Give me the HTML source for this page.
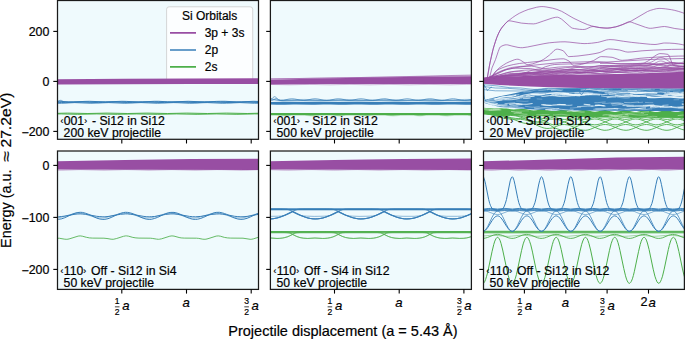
<!DOCTYPE html>
<html><head><meta charset="utf-8"><title>Si orbital energies</title>
<style>html,body{margin:0;padding:0;background:#fff;}body{width:685px;height:339px;overflow:hidden;font-family:"Liberation Sans",sans-serif;}svg{display:block;}</style>
</head><body>
<svg width="685" height="339" viewBox="0 0 685 339">
<defs><clipPath id="c0"><rect x="57.5" y="0.5" width="201" height="138.8"/></clipPath><clipPath id="c1"><rect x="270.4" y="0.5" width="201" height="138.8"/></clipPath><clipPath id="c2"><rect x="483.5" y="0.5" width="200.9" height="138.8"/></clipPath><clipPath id="c3"><rect x="57.5" y="151" width="201" height="138.4"/></clipPath><clipPath id="c4"><rect x="270.4" y="151" width="201" height="138.4"/></clipPath><clipPath id="c5"><rect x="483.5" y="151" width="200.9" height="138.4"/></clipPath></defs>
<rect width="685" height="339" fill="#fff"/>
<rect x="57.5" y="0.5" width="201" height="138.8" fill="#effafd"/>
<g clip-path="url(#c0)" fill="none" stroke-linejoin="round">
<rect x="166.6" y="6.8" width="86.1" height="76" rx="2.5" fill="#ffffff" fill-opacity="0.8" stroke="#cccccc" stroke-opacity="0.8" stroke-width="1"/>
<polyline points="170,32.8 196,32.8" stroke="#984ea3" stroke-width="1.7"/>
<polyline points="170,50 196,50" stroke="#377eb8" stroke-width="1.7"/>
<polyline points="170,66.8 196,66.8" stroke="#4daf4a" stroke-width="1.7"/>
<polygon points="55.5,79.2 125,78.8 260.5,78.3 260.5,84 191,84 55.5,84.5" fill="#984ea3" stroke="none"/>
<polyline points="55.5,101.3 59.9,101.3 68.8,101.9 73.2,101.9 85,101.4 89.4,101.3 105.6,101.9 121.9,101.3 126.3,101.4 138.1,101.9 142.5,101.9 154.3,101.3 158.7,101.3 167.6,101.8 172,101.9 188.2,101.3 204.5,101.9 208.9,101.8 216.3,101.4 220.7,101.3 225.1,101.3 236.9,101.9 241.3,101.9 253.1,101.3 260.5,101.5" stroke="#377eb8" stroke-width="1"/>
<polyline points="55.5,102.2 61.4,102.5 65.8,102.6 82,102 98.3,102.6 102.7,102.5 111.5,102.1 116,102 127.8,102.5 132.2,102.6 144,102.1 148.4,102 164.6,102.6 180.9,102 197.1,102.6 213.3,102 231,102.6 247.2,102 260.5,102.6" stroke="#377eb8" stroke-width="1"/>
<polyline points="55.5,103.2 61.4,103.2 74.7,102.6 90.9,103.2 108.6,102.6 124.8,103.2 141,102.6 157.3,103.2 173.5,102.6 177.9,102.7 189.7,103.2 194.1,103.1 203,102.7 207.4,102.6 222.2,103.2 226.6,103.1 239.9,102.6 254.6,103.2 260.5,103.1" stroke="#377eb8" stroke-width="1"/>
<polyline points="55.5,101.8 57,101.7 58.4,101.1 59.9,100.3 61.4,100.4 62.9,101.3 64.3,101.7 65.8,101.8 260.5,101.8" stroke="#377eb8" stroke-width="0.8" stroke-opacity="0.8"/>
<polyline points="55.5,113.4 67.3,113.1 87.9,113.5 107.1,113.1 127.8,113.5 146.9,113.1 167.6,113.5 186.8,113.1 207.4,113.5 226.6,113.1 247.2,113.5 260.5,113.2" stroke="#4daf4a" stroke-width="1"/>
<polyline points="55.5,113.9 61.4,113.9 77.6,114.3 96.8,113.9 117.4,114.3 136.6,113.9 157.3,114.3 176.4,113.9 197.1,114.3 216.3,113.9 236.9,114.3 254.6,113.9 260.5,113.9" stroke="#4daf4a" stroke-width="1"/>
</g>
<rect x="270.4" y="0.5" width="201" height="138.8" fill="#effafd"/>
<g clip-path="url(#c1)" fill="none" stroke-linejoin="round">
<polygon points="268.4,79.7 320.5,78.6 372.6,77.6 421.3,76.8 473.4,76.2 473.4,84.1 421.3,84 369.2,84 320.5,84.1 268.4,84.4" fill="#984ea3" stroke="none"/>
<polyline points="268.4,79 380.2,77.2 473.4,75" stroke="#984ea3" stroke-width="0.8" stroke-opacity="0.75"/>
<polyline points="268.4,79 473.4,75.7" stroke="#984ea3" stroke-width="0.8" stroke-opacity="0.6"/>
<polyline points="268.4,84.4 289.7,84.8 309.5,84.4 330.1,84.8 349.3,84.4 369.9,84.8 389.1,84.4 409.6,84.8 428.8,84.4 450.1,84.8 466.5,84.4 473.4,84.4" stroke="#984ea3" stroke-width="0.8" stroke-opacity="0.5"/>
<polygon points="268.4,102.1 283.5,101.7 302,102.1 320.5,101.7 339,102.1 357.5,101.7 376,102.1 380.8,102 393.9,101.7 398.7,101.7 408.3,102 413.1,102.1 417.9,102 430.9,101.7 435.7,101.7 445.3,102 450.1,102.1 454.9,102 465.9,101.7 473.4,101.8 473.4,104.7 469.3,104.8 465.2,104.8 454.9,104.4 450.8,104.4 447.3,104.4 439.1,104.8 435,104.8 431.6,104.8 424,104.4 419.9,104.4 416.5,104.4 408.3,104.8 404.2,104.8 400.7,104.8 392.5,104.4 389.1,104.4 385,104.4 377.4,104.8 373.3,104.8 369.9,104.8 361.6,104.4 358.2,104.4 354.1,104.4 345.9,104.8 342.4,104.8 338.3,104.8 330.8,104.4 327.4,104.4 323.2,104.4 315,104.8 311.6,104.8 296.5,104.4 293.1,104.4 284.9,104.8 280.7,104.8 276.6,104.8 268.4,104.4" fill="#377eb8" stroke="none"/>
<polyline points="268.4,98.8 271.1,98.9 278,100.2 280.7,100.4 283.5,100.2 289,99.1 291.7,98.8 294.5,99 300.6,100.1 303.4,100.4 306.1,100.2 312.3,99 315,98.8 317.8,99 323.9,100.2 326.7,100.4 329.4,100.2 335.6,99 338.3,98.8 341.1,99 346.6,100.1 349.3,100.4 352,100.2 358.2,99 361,98.8 363.7,99 369.9,100.2 372.6,100.4 375.4,100.2 380.8,99.1 383.6,98.8 386.3,98.9 392.5,100.1 395.9,100.4 398.7,100.1 404.2,99.1 406.9,98.8 409.6,99 415.8,100.2 418.6,100.4 421.3,100.2 426.8,99.1 429.5,98.8 432.3,98.9 439.1,100.2 441.9,100.4 444.6,100.2 449.4,99.2 452.1,98.8 453.5,98.8 455.6,99 461.7,100.2 464.5,100.4 467.2,100.2 473.4,99" stroke="#377eb8" stroke-width="0.8" stroke-opacity="0.9"/>
<polyline points="268.4,99.6 278,100.3 283.5,100.4 288.3,100.2 299.3,99.5 304.7,99.4 309.5,99.6 319.1,100.3 323.9,100.4 328.7,100.3 339,99.6 343.8,99.4 348.6,99.5 359.6,100.2 365.1,100.4 369.9,100.3 380.2,99.6 385,99.4 389.8,99.5 400.7,100.3 405.5,100.4 410.3,100.3 420.6,99.6 425.4,99.4 430.9,99.5 441.9,100.3 446.7,100.4 452.1,100.2 464.5,99.4 468.6,99.4 473.4,99.6" stroke="#377eb8" stroke-width="0.8" stroke-opacity="0.45"/>
<polyline points="268.4,100.2 269.8,100 270.5,99.8 271.8,98.8 273.2,97.4 273.9,96.9 274.6,96.7 275.3,96.9 275.9,97.4 277.3,98.7 278.7,99.7 280.1,100.2 282.1,100.3 473.4,100.3" stroke="#377eb8" stroke-width="0.8" stroke-opacity="0.8"/>
<polyline points="268.4,100.8 270.5,100.8 271.8,100.5 273.2,99.9 275.3,98.6 275.9,98.4 276.6,98.5 278.7,99.8 280.1,100.5 281.4,100.7 282.8,100.8 473.4,100.8" stroke="#377eb8" stroke-width="0.8" stroke-opacity="0.7"/>
<polygon points="268.4,112.9 473.4,112.9 473.4,115.6 467.2,115.1 462.4,115 454.2,115.1 447.3,115.6 445.3,115.5 441.2,115.2 439.1,115.1 429.5,115 426.1,115.1 422,115.5 419.9,115.6 417.9,115.5 413.8,115.1 409.6,115 400.7,115.1 393.2,115.6 391.1,115.5 387.7,115.2 385,115 375.4,115 372.6,115.1 367.8,115.5 365.8,115.6 358.2,115.1 350,115 345.9,115.1 341.1,115.5 339,115.6 337,115.5 332.8,115.1 329.4,115 319.8,115.1 312.3,115.6 310.2,115.5 304.7,115.1 296.5,115 291.7,115.1 286.9,115.5 284.9,115.6 277.3,115.1 268.4,115" fill="#4daf4a" stroke="none"/>
<polyline points="268.4,115.3 277.3,115.4 284.9,115.9 291.7,115.4 296.5,115.3 304.7,115.4 312.3,115.9 319.8,115.4 329.4,115.3 332.8,115.4 339,115.9 345.9,115.4 350,115.3 358.2,115.4 365.8,115.9 375.4,115.3 385,115.3 393.2,115.9 400.7,115.4 409.6,115.3 413.8,115.4 419.9,115.9 426.1,115.4 429.5,115.3 439.1,115.4 447.3,115.9 454.2,115.4 462.4,115.3 467.2,115.4 473.4,115.9" stroke="#4daf4a" stroke-width="0.6" stroke-opacity="0.5"/>
</g>
<rect x="483.5" y="0.5" width="200.9" height="138.8" fill="#effafd"/>
<g clip-path="url(#c2)" fill="none" stroke-linejoin="round">
<polyline points="482.5,113 485.6,113.4 490.2,114.4 501.9,117.7 506.5,118.7 511.1,119.1 520.3,119.3 522.9,119.6 524.9,119.9 527.5,120.7 530,121.7 538.2,125.9 541.3,127.2 544.3,128.1 546.9,128.5 549.4,128.4 552.5,127.9 553,127.8 557.1,126 559.7,125.2 562.2,124.6 564.8,124.5 567.3,124.8 569.9,125.5 577.6,128.7 580.1,129.6 583.2,130.2 585.7,130.3 587.8,130 590.3,129.3 598,126.1 600.5,125.2 603.1,124.6 605.7,124.5 608.2,124.8 610.8,125.5 618.4,128.7 621,129.6 623.5,130.1 626.1,130.3 628.7,130 631.2,129.3 633.8,128.4 638.9,126.1 641.9,125.1 644.5,124.6 646.5,124.5 649.1,124.8 651.7,125.5 654.2,126.4 659.3,128.6 662.4,129.7 664.9,130.2 667,130.3 669,130.1 671.6,129.5 674.1,128.6 679.2,126.4 681.8,125.4 684.4,124.8 686.4,124.5" stroke="#4daf4a" stroke-width="0.9"/>
<polyline points="482.5,113 483,113 487.6,114.1 491.2,114.7 501.4,116 506,116.9 511.1,118.5 520.8,122.2 523.4,123 525.4,123.4 528,123.6 530.5,123.6 537.7,122.9 540.2,122.7 542.3,122.8 544.3,123.1 546.4,123.6 548.4,124.4 550.5,125.5 553,127 557.1,128.8 560.2,129.8 562.7,130.2 565.3,130.3 568.4,129.7 571.4,128.7 577,126.3 579.6,125.3 582.2,124.7 584.7,124.5 587.3,124.7 589.8,125.3 592.4,126.3 598,128.7 601.1,129.7 604.1,130.3 606.7,130.2 608.7,129.9 611.3,129.1 618.4,126.1 621,125.2 623.5,124.7 625.6,124.5 628.1,124.7 630.7,125.3 633.3,126.2 639.4,128.9 641.9,129.7 644.5,130.2 647.1,130.3 649.1,130 651.7,129.3 654.2,128.4 659.3,126.2 661.9,125.3 664.4,124.7 666.5,124.5 669,124.7 671.6,125.3 674.1,126.2 679.2,128.4 681.8,129.4 684.4,130 686.4,130.3" stroke="#4daf4a" stroke-width="0.9"/>
<polyline points="482.5,113 485.6,113.4 494.3,114.9 497.8,115.3 501.9,115.5 510.6,115.4 515.2,115.8 517.8,116.4 520.3,117.1 530.5,120.8 533.1,121.4 535.1,121.7 537.7,121.8 540.2,121.5 547.9,119.6 550.5,119.2 554,119 556.1,119.2 558.1,119.6 560.2,120.2 566.8,123 569.4,124 571.9,124.6 574,124.8 576.5,124.7 579.1,124.1 581.6,123.2 589.3,120 591.9,119.3 594.4,119 597,119.1 599.5,119.7 602.1,120.6 609.7,123.8 612.3,124.5 614.9,124.8 617.4,124.7 620,124.1 622.5,123.3 630.2,120.1 632.7,119.3 635.3,119 637.9,119.1 640.4,119.7 643,120.5 650.6,123.7 653.2,124.4 655.7,124.8 658.3,124.7 661.4,124 663.9,123.1 671.1,120.1 673.1,119.5 675.2,119.1 677.7,119 680.3,119.4 682.8,120.1 686.4,121.5" stroke="#4daf4a" stroke-width="0.9"/>
<polyline points="482.5,113 493.2,113.9 497.3,114.4 501.9,115.3 511.1,117.7 515.7,118.4 518.3,118.5 520.8,118.4 528,117.5 530.5,117.3 533.1,117.3 535.1,117.5 537.2,118 539.7,118.9 542.3,120 549.4,123.6 552,124.5 553.5,124.8 556.1,124.6 558.6,124.1 561.2,123.2 568.9,120 571.4,119.3 574,119 576.5,119.1 579.1,119.7 581.6,120.6 589.3,123.8 591.9,124.5 594.4,124.8 597,124.7 599.5,124.1 602.1,123.2 609.7,120 612.3,119.3 614.9,119 617.4,119.1 620,119.7 622.5,120.5 630.2,123.7 632.7,124.5 635.3,124.8 637.9,124.7 640.4,124.1 643,123.3 650.6,120.1 653.2,119.4 655.7,119 658.3,119.1 661.4,119.8 663.9,120.7 671.1,123.7 673.1,124.3 675.2,124.7 677.7,124.8 680.3,124.4 682.8,123.7 686.4,122.3" stroke="#4daf4a" stroke-width="0.9"/>
<polyline points="482.5,113 487.1,113.1 490.7,113.3 501.4,114.7 506,115 511.1,114.8 520.3,113.8 522.9,113.7 524.9,113.8 527.5,114.1 530,114.7 538.2,117.4 540.8,118.1 543.3,118.5 545.4,118.6 547.9,118.4 550.5,117.9 553,117.2 557.6,115.4 560.2,114.7 562.7,114.3 565.3,114.2 567.3,114.5 569.9,115.1 577.6,118 580.1,118.8 582.7,119.3 584.7,119.4 586.7,119.3 589.3,118.8 591.9,118 597.5,115.8 600,115 602.6,114.4 605.1,114.2 607.2,114.3 609.7,114.8 612.3,115.6 620,118.5 622.5,119.1 624.6,119.4 627.1,119.3 629.7,118.9 632.7,118 638.4,115.9 640.9,115 643.5,114.4 646,114.2 648.6,114.4 651.1,114.9 653.7,115.7 659.8,118.1 662.4,118.9 664.9,119.3 667.5,119.4 669.5,119.2 671.6,118.7 674.1,117.9 681.8,115 684.4,114.4 686.4,114.2" stroke="#4daf4a" stroke-width="0.9"/>
<polyline points="482.5,113 490.7,113.5 501.4,113.3 506,113.5 511.1,114.2 520.8,116.4 523.4,116.7 525.4,116.8 528,116.7 530.5,116.3 540.2,114.3 542.8,114 544.8,114.1 546.9,114.4 549.4,115 556.1,117.6 559.2,118.7 561.7,119.2 564.3,119.4 566.3,119.3 568.9,118.8 571.4,118 579.1,115.1 581.6,114.5 583.7,114.2 586.2,114.3 588.8,114.7 591.9,115.6 597.5,117.8 600,118.6 602.6,119.2 605.1,119.4 607.7,119.2 610.3,118.7 612.8,117.8 618.9,115.5 621.5,114.7 624.6,114.2 627.1,114.3 629.2,114.6 631.7,115.2 638.9,117.9 641.4,118.7 644,119.3 646,119.4 648.6,119.2 651.1,118.7 653.7,117.9 659.8,115.5 662.4,114.7 664.9,114.3 667,114.2 669,114.4 671.6,114.9 674.1,115.7 681.8,118.6 684.4,119.2 686.4,119.4" stroke="#4daf4a" stroke-width="0.9"/>
<polygon points="482.5,107.8 486.6,107.9 494.3,108.4 501.4,108.3 504,108.4 506.5,108.6 511.1,109.2 513.7,109.4 516.2,109.3 521.3,108.9 523.9,108.9 526.4,109.2 531.6,110.2 533.6,110.4 536.2,110.3 542.3,109.3 544.3,109.3 545.4,109.4 546.9,109.7 551.5,110.9 553.5,111.1 554.6,111.1 556.1,111 561.2,109.8 563.2,109.5 564.8,109.5 566.3,109.8 571.4,111.1 573,111.4 574,111.5 575,111.5 576.5,111.3 582.2,110 583.7,109.8 584.7,109.8 585.7,109.9 587.3,110.2 592.4,111.6 594.4,111.8 595.4,111.8 597,111.6 602.1,110.4 603.6,110.2 604.6,110.1 605.7,110.1 607.2,110.4 612.8,111.7 614.3,111.9 615.9,111.9 617.9,111.6 622.5,110.4 624.1,110.2 625.1,110.2 626.1,110.2 627.6,110.4 633.3,111.8 634.8,112 635.8,112 636.8,111.9 638.4,111.6 641.9,110.7 643.5,110.4 645.5,110.2 646.5,110.2 648.1,110.5 653.7,111.8 655.2,112 656.2,112 657.3,111.9 658.8,111.7 663.4,110.5 664.9,110.3 666,110.3 668,110.4 669.5,110.7 673.6,111.8 675.2,112 676.2,112.1 678.2,111.9 679.8,111.6 683.8,110.6 685.4,110.3 686.4,110.3 686.4,117.9 600,117.4 540.2,116.3 482.5,114.4" fill="#4daf4a" stroke="none"/>
<polyline points="602.6,115.2 605.1,114.8 607.2,114.8 609.2,114.9 613.3,115.5 615.4,115.6 622.5,114.9" stroke="#d9f0d6" stroke-width="0.89" stroke-opacity="0.63"/>
<polyline points="677.7,115.6 682.3,115.1 685.4,115" stroke="#d9f0d6" stroke-width="0.9" stroke-opacity="0.56"/>
<polyline points="622,112.8 625.6,113.3 628.1,113.5 630.2,113.3 635.3,112.7 637.3,112.7 639.4,112.8 644,113.4" stroke="#d9f0d6" stroke-width="0.64" stroke-opacity="0.63"/>
<polyline points="566.8,111.6 570.4,111.2 573,111.1 575,111.2 581.1,112 584.7,112" stroke="#d9f0d6" stroke-width="0.8" stroke-opacity="0.68"/>
<polyline points="513.7,113.4 516.2,113.2 518.3,113.3 524.4,114.2 527.5,114.3" stroke="#d9f0d6" stroke-width="0.7" stroke-opacity="0.67"/>
<polyline points="516.2,111.2 519.3,111.2 525.9,110.9 529,110.9" stroke="#d9f0d6" stroke-width="0.51" stroke-opacity="0.56"/>
<polyline points="625.1,114.6 628.1,114.3 630.7,114.3 638.4,115 640.9,115.1 643.5,115 648.1,114.5" stroke="#d9f0d6" stroke-width="0.61" stroke-opacity="0.69"/>
<polyline points="610.8,116.2 616.4,116.7" stroke="#d9f0d6" stroke-width="0.74" stroke-opacity="0.6"/>
<polyline points="482.5,108.5 485.1,108.6 490.2,109.4 492.2,109.6 494.3,109.5 499.4,109.1" stroke="#d9f0d6" stroke-width="0.85" stroke-opacity="0.67"/>
<polyline points="482.5,109.4 487.6,110.1 490.2,110.3 492.7,110.2 497.8,109.8 500.4,109.8" stroke="#d9f0d6" stroke-width="0.8" stroke-opacity="0.67"/>
<polyline points="511.1,111.4 517.2,112.3 519.3,112.4 521.8,112.3" stroke="#d9f0d6" stroke-width="0.86" stroke-opacity="0.74"/>
<polyline points="640.9,112.5 646.5,111.9 649.1,111.8" stroke="#d9f0d6" stroke-width="0.63" stroke-opacity="0.75"/>
<polyline points="609.7,114.8 613.3,115.1 616.9,115.1 628.1,114.4" stroke="#d9f0d6" stroke-width="0.51" stroke-opacity="0.8"/>
<polyline points="536.2,114.9 544.8,114.5 549.4,114.6" stroke="#d9f0d6" stroke-width="0.79" stroke-opacity="0.5"/>
<polyline points="646.5,117 652.7,116.3 654.7,116.4 657.3,116.6" stroke="#d9f0d6" stroke-width="0.55" stroke-opacity="0.72"/>
<polyline points="489.1,110.2 492.2,110.2 498.3,109.9 501.4,109.9" stroke="#d9f0d6" stroke-width="0.77" stroke-opacity="0.6"/>
<polyline points="553,114.9 555.1,115 559.7,114.4 561.7,114.3 563.8,114.5 567.3,115.1 569.9,115.2" stroke="#d9f0d6" stroke-width="0.74" stroke-opacity="0.52"/>
<polyline points="608.7,116 610.8,115.9 612.8,115.9 618.4,116.6 620.5,116.7 622.5,116.6 628.7,116" stroke="#d9f0d6" stroke-width="0.85" stroke-opacity="0.78"/>
<polygon points="482.5,100.5 483,100.5 490.2,98.6 499.9,96.2 510.1,94.2 520.3,91.9 535.1,89.6 550,88.2 686.4,88.6 686.4,111.2 550,110.2 530,109.3 499.9,107 490.2,104.8 483,102.5 482.5,102.5" fill="#377eb8" stroke="none"/>
<polyline points="487.1,100.3 490.7,100 496.3,100 498.9,99.9 501.4,99.5 507.5,98.2 510.6,97.7 513.2,97.5 519.3,97.3 523.4,96.9" stroke="#effafd" stroke-width="0.63" stroke-opacity="0.57"/>
<polyline points="682.3,91.8 686.4,91.6" stroke="#effafd" stroke-width="1.16" stroke-opacity="0.63"/>
<polyline points="494.8,99 499.9,97.5 502.4,96.9 505,96.6 511.1,96.3 513.7,95.8 516.2,95.1" stroke="#effafd" stroke-width="1.27" stroke-opacity="0.91"/>
<polyline points="608.7,94.5 614.9,94 617.9,93.9 621,94 628.7,94.7 632.7,94.6" stroke="#effafd" stroke-width="1.06" stroke-opacity="0.61"/>
<polyline points="620.5,96.3 625.6,96.8 629.2,96.9 638.4,96.3 641.4,96.2 644.5,96.4 650.1,96.9" stroke="#effafd" stroke-width="0.63" stroke-opacity="0.73"/>
<polyline points="629.7,94.6 636.3,95.3 638.9,95.4 641.9,95.3 650.6,94.7 653.7,94.7 657.3,95.1" stroke="#effafd" stroke-width="0.79" stroke-opacity="0.71"/>
<polyline points="482.5,101 485.6,100.8 490.7,101.3 492.7,101.3 494.8,101.1 499.4,100.2 502.4,100" stroke="#effafd" stroke-width="1.23" stroke-opacity="0.64"/>
<polyline points="525.9,96.1 529,95.4 531,95 533.6,94.9 537.2,95.2 539.2,95.2 541.3,94.9 544.8,94.2" stroke="#effafd" stroke-width="1.2" stroke-opacity="0.73"/>
<polyline points="564.3,93.9 572.4,94.6 576,94.8 579.6,94.7 587.8,94.1 591.9,94.1" stroke="#effafd" stroke-width="1.32" stroke-opacity="0.89"/>
<polyline points="561.7,94.8 564.8,94.6 567.8,94.6 575.5,95.2 578.6,95.4 581.6,95.3 585.2,95" stroke="#effafd" stroke-width="1.1" stroke-opacity="0.71"/>
<polyline points="522.4,95.3 535.1,93.1 539.2,92.9 547.9,93 553,92.8 561.2,92.2" stroke="#effafd" stroke-width="0.81" stroke-opacity="0.64"/>
<polyline points="615.4,91.4 623.5,92.2 626.1,92.2 631.2,91.6 633.8,91.5 636.3,91.6 642.5,92.3 646,92.2" stroke="#effafd" stroke-width="1.29" stroke-opacity="0.81"/>
<polyline points="606.7,97.5 612.3,96.9 616.4,96.9" stroke="#effafd" stroke-width="1.32" stroke-opacity="0.64"/>
<polyline points="520.3,95.9 527,94.6 530.5,94.1 534.6,93.9 538.7,94" stroke="#effafd" stroke-width="0.65" stroke-opacity="0.92"/>
<polyline points="669.5,93 675.7,93.8 677.2,93.8 679.2,93.7" stroke="#effafd" stroke-width="0.71" stroke-opacity="0.56"/>
<polyline points="598.5,91.5 603.6,90.8 605.7,90.7 607.7,90.8 611.8,91.4 613.8,91.5 615.9,91.4 621.5,90.8 623.5,90.8 628.1,91.5 630.2,91.6 632.2,91.5 635.8,91" stroke="#effafd" stroke-width="0.91" stroke-opacity="0.62"/>
<polyline points="634.8,89.8 637.9,89.7 646,89.1 651.1,89.2" stroke="#effafd" stroke-width="1.3" stroke-opacity="0.6"/>
<polyline points="621.5,89.4 623.5,89.2 625.6,89.2 631.2,89.9 633.3,90 635.3,89.9 641.4,89.3 644,89.4 648.1,89.9 650.1,90.1 652.2,90 654.7,89.7" stroke="#effafd" stroke-width="0.95" stroke-opacity="0.82"/>
<polyline points="601.6,91.4 607.7,91.5 616.4,90.9 620,90.8 623.5,90.9 629.2,91.3" stroke="#effafd" stroke-width="0.81" stroke-opacity="0.91"/>
<polyline points="541.8,96.6 546.4,95.9 550,95.7 553,95.8 558.6,96.4 561.7,96.5 564.8,96.4 571.4,95.9 575,95.8" stroke="#effafd" stroke-width="0.88" stroke-opacity="0.56"/>
<polyline points="666,93.9 671.1,94.4 674.1,94.5 677.2,94.3 683.3,93.8 686.4,93.7" stroke="#effafd" stroke-width="0.6" stroke-opacity="0.64"/>
<polyline points="680.8,93.3 683.8,93 686.4,93.1" stroke="#effafd" stroke-width="0.99" stroke-opacity="0.77"/>
<polyline points="604.6,92.8 607.7,92.8 613.3,92.2 615.9,92.1 618.4,92.2 623.5,92.8 626.1,92.9 628.7,92.9 636.3,92.2 639.4,92.3 643,92.7" stroke="#effafd" stroke-width="0.93" stroke-opacity="0.76"/>
<polyline points="560.2,94.7 564.8,94.8 573.5,95.4 577,95.6 581.1,95.5 588.8,94.9" stroke="#effafd" stroke-width="0.67" stroke-opacity="0.85"/>
<polyline points="588.8,89.1 601.6,89.9 605.1,89.9 608.7,89.7" stroke="#effafd" stroke-width="1.34" stroke-opacity="0.6"/>
<polyline points="574.5,93.2 580.1,92.7 583.7,92.6 587.3,92.7 593.4,93.3" stroke="#effafd" stroke-width="1.3" stroke-opacity="0.56"/>
<polyline points="504.5,99.5 507.5,99.3 515.2,99.1 519.8,98.6" stroke="#effafd" stroke-width="0.75" stroke-opacity="0.84"/>
<polyline points="630.2,92.8 634.8,93.3 637.9,93.4 640.9,93.2 647.1,92.7 650.1,92.6 653.2,92.7 657.3,93.1" stroke="#effafd" stroke-width="1.38" stroke-opacity="0.91"/>
<polyline points="627.6,90.7 632.7,90.2 634.8,90.2 636.8,90.4" stroke="#effafd" stroke-width="1.27" stroke-opacity="0.9"/>
<polyline points="664.4,93.5 666.5,93.8 668,93.8 673.1,93.2 675.2,93.1 676.7,93.2 681.3,93.9 683.8,93.8" stroke="#effafd" stroke-width="0.98" stroke-opacity="0.66"/>
<polyline points="588.3,94.7 593.9,94.5 600,94.8" stroke="#effafd" stroke-width="1.16" stroke-opacity="0.79"/>
<polyline points="628.1,91.6 632.2,91.7 640.4,91" stroke="#effafd" stroke-width="1.13" stroke-opacity="0.66"/>
<polyline points="550,95.6 552.5,95.4 554.6,95.4 561.2,96.2 563.8,96.2 566.3,96.1 571.4,95.6 574,95.5 576.5,95.7 580.1,96.1" stroke="#effafd" stroke-width="0.92" stroke-opacity="0.58"/>
<polyline points="522.9,98.2 527,98.3 530.5,98" stroke="#effafd" stroke-width="0.98" stroke-opacity="0.86"/>
<polyline points="682.8,94.9 686.4,95.2" stroke="#effafd" stroke-width="0.81" stroke-opacity="0.93"/>
<polyline points="635.8,91.6 638.9,91.2 640.9,91 643,91.1 647.1,91.7 649.1,91.8 651.1,91.7 656.2,91.1 658.3,91.1 662.4,91.7 664.4,91.9 666.5,91.8 670,91.3" stroke="#effafd" stroke-width="0.77" stroke-opacity="0.82"/>
<polyline points="555.1,94.7 557.6,94.5 559.7,94.5 564.8,95" stroke="#effafd" stroke-width="0.85" stroke-opacity="0.73"/>
<polyline points="662.4,95.8 667,96.4 669.5,96.5 672.1,96.4 677.2,95.9 679.8,95.8 682.3,95.9 686.4,96.3" stroke="#effafd" stroke-width="1.05" stroke-opacity="0.62"/>
<polyline points="530.5,94.4 534.6,94.2 542.3,94.2 545.9,93.9 550,93.3 556.1,93 560.7,93.1 568.9,93.7" stroke="#effafd" stroke-width="1.35" stroke-opacity="0.92"/>
<polyline points="569.4,94.6 572.4,94.5 579.1,94 582.2,93.9 585.7,94 591.3,94.5" stroke="#effafd" stroke-width="1.06" stroke-opacity="0.57"/>
<polyline points="488.1,99.4 490.2,99.1 494.3,98.9 496.3,98.7 498.3,98.3 501.4,97.4" stroke="#effafd" stroke-width="0.87" stroke-opacity="0.59"/>
<polyline points="666.5,92.1 674.6,92.8 678.7,92.9" stroke="#effafd" stroke-width="0.83" stroke-opacity="0.87"/>
<polyline points="669,95 671.1,94.9 675.2,94.3 677.2,94.2 679.2,94.4 684.4,95" stroke="#effafd" stroke-width="1.07" stroke-opacity="0.7"/>
<polyline points="494.3,99.4 498.9,98.8 510.6,98 514.2,97.5 519.8,96.3 522.9,95.7" stroke="#effafd" stroke-width="1.17" stroke-opacity="0.75"/>
<polyline points="523.4,91.8 529,91.7 531,91.3 535.1,90.1 536.7,89.9 538.7,89.7 542.8,90 544.8,89.9 546.9,89.6 550,88.9 551.5,88.7 554,88.8 558.1,89.4 559.7,89.5" stroke="#effafd" stroke-width="0.73" stroke-opacity="0.77"/>
<polyline points="540.8,96.2 542.8,96.3 544.8,96.3 550,95.4 552.5,95.3 554.6,95.4 558.6,96 560.7,96.1" stroke="#effafd" stroke-width="0.79" stroke-opacity="0.63"/>
<polyline points="538.2,90.7 543.3,89.7 546.4,89.3 550,89.3 553.5,89.7 556.1,89.8" stroke="#effafd" stroke-width="0.61" stroke-opacity="0.64"/>
<polyline points="629.7,91.8 632.7,91.5 635.3,91.5 643,92.2 646.5,92.3" stroke="#effafd" stroke-width="0.88" stroke-opacity="0.92"/>
<polyline points="628.1,92.2 631.7,92.7 633.8,92.8 635.8,92.7 640.9,92.1 643,92 645,92.1 651.7,92.9 654.2,92.8 658.8,92.2 660.8,92.1 662.9,92.2 666,92.6" stroke="#effafd" stroke-width="0.79" stroke-opacity="0.68"/>
<polyline points="608.2,93.8 611.8,93.8 616.4,93.5" stroke="#effafd" stroke-width="0.86" stroke-opacity="0.74"/>
<polyline points="616.9,97.2 625.1,98.1 627.1,98.1 629.7,97.8" stroke="#effafd" stroke-width="0.6" stroke-opacity="0.59"/>
<polyline points="630.7,95.8 633.8,95.6 636.3,95.5 644,96.3 646.5,96.4 649.1,96.3 656.8,95.6 659.3,95.7 662.9,96" stroke="#effafd" stroke-width="1.3" stroke-opacity="0.63"/>
<polyline points="561.2,92.3 566.3,92.8 569.4,92.9 579.6,92.2" stroke="#effafd" stroke-width="0.6" stroke-opacity="0.82"/>
<polyline points="584.2,90 588.3,89.7 591.9,89.7 601.1,90.4" stroke="#effafd" stroke-width="0.85" stroke-opacity="0.58"/>
<polyline points="659.8,89 664.4,89 671.6,89.7 674.6,89.8 677.7,89.8 681.3,89.5" stroke="#effafd" stroke-width="0.92" stroke-opacity="0.57"/>
<polyline points="615.4,95.9 618.4,96.4 620.5,96.5 622.5,96.5 627.1,95.9 629.2,95.8 631.2,95.9 636.3,96.6 637.9,96.6 639.9,96.5" stroke="#effafd" stroke-width="0.84" stroke-opacity="0.72"/>
<polyline points="513.7,97.6 519.8,97 529,96.8 534.6,96.1" stroke="#effafd" stroke-width="0.93" stroke-opacity="0.9"/>
<polyline points="614.9,95.1 618.9,95.7 621.5,95.8 623.5,95.7 628.1,95.1 630.2,95.1 632.2,95.3 636.3,95.8 638.4,95.9 640.4,95.8 646,95.2" stroke="#effafd" stroke-width="0.79" stroke-opacity="0.82"/>
<polyline points="673.1,96.3 677.7,95.7 679.8,95.6 681.8,95.7 686.4,96.4" stroke="#effafd" stroke-width="1.37" stroke-opacity="0.62"/>
<polyline points="493.7,99 496.8,98.7 499.4,98.2 508.1,96.1 511.1,95.5 514.2,95.1 519.3,94.7" stroke="#effafd" stroke-width="0.87" stroke-opacity="0.64"/>
<polyline points="597.5,90.6 600.5,91 602.6,91 608.7,90.3 610.8,90.2 612.8,90.4 617.4,91 620,91" stroke="#effafd" stroke-width="0.69" stroke-opacity="0.85"/>
<polyline points="580.6,90.1 587.8,89.4 589.8,89.4 593.9,90.1 595.9,90.2 598,90 602.1,89.5 604.1,89.4" stroke="#effafd" stroke-width="1.3" stroke-opacity="0.79"/>
<polyline points="546.9,89.6 548.9,89.2 550.5,89.1 552.5,89.2 558.6,89.9 560.7,89.9 563.2,89.6" stroke="#effafd" stroke-width="1.3" stroke-opacity="0.74"/>
<polyline points="681.8,96.9 686.4,97.1" stroke="#effafd" stroke-width="1.18" stroke-opacity="0.67"/>
<polyline points="663.4,94.8 671.1,94.2 674.6,94.1 678.2,94.2 685.4,94.8" stroke="#effafd" stroke-width="1.28" stroke-opacity="0.68"/>
<polyline points="657.3,94.9 663.4,95.7 665.4,95.6 668.5,95.3" stroke="#effafd" stroke-width="1.23" stroke-opacity="0.7"/>
<polyline points="580.1,94.2 582.7,94.4 584.7,94.5 591.3,93.8 593.4,93.7 595.9,93.8 602.6,94.5 605.1,94.5 607.7,94.2" stroke="#effafd" stroke-width="0.81" stroke-opacity="0.89"/>
<polyline points="673.1,91.9 675.7,91.7 677.7,91.7 684.4,92.4 686.4,92.5" stroke="#effafd" stroke-width="1.09" stroke-opacity="0.64"/>
<polyline points="647.1,97.2 651.1,97.5 654.7,97.6 663.9,97 667.5,96.9 670.6,97 679.8,97.7 682.8,97.7 686.4,97.5" stroke="#effafd" stroke-width="1.36" stroke-opacity="0.95"/>
<polyline points="671.6,95.7 674.6,95.6 681.8,94.9 686.4,95.1" stroke="#effafd" stroke-width="1.02" stroke-opacity="0.84"/>
<polyline points="551,90.5 556.6,90 561.7,90.2" stroke="#effafd" stroke-width="0.74" stroke-opacity="0.89"/>
<polyline points="601.1,95.9 605.1,96.5 607.7,96.6 609.7,96.5 613.8,96 616.4,95.9 622,96.6 624.1,96.7 626.1,96.6 631.7,96" stroke="#effafd" stroke-width="0.74" stroke-opacity="0.81"/>
<polyline points="498.3,100.5 502.9,99.8 509.6,99.9 511.6,99.8 514.2,99.4 519.8,98.2 522.4,98" stroke="#effafd" stroke-width="0.95" stroke-opacity="0.55"/>
<polyline points="659.8,89.7 663.9,90.2 666.5,90.3 669,90.2 675.7,89.6 677.7,89.6 680.3,89.8" stroke="#effafd" stroke-width="1" stroke-opacity="0.73"/>
<polyline points="551.5,94.4 562.7,93.7 566.3,93.8 574,94.5 577.6,94.6 581.1,94.5 588.8,93.9" stroke="#effafd" stroke-width="0.92" stroke-opacity="0.87"/>
<polyline points="594.9,105.3 598.5,105.2 604.6,105.9" stroke="#effafd" stroke-width="1.18" stroke-opacity="0.89"/>
<polyline points="650.1,106.7 653.7,106.3 656.2,106.2 658.8,106.3 663.9,106.9 666,107 668.5,106.9 672.1,106.6" stroke="#effafd" stroke-width="0.96" stroke-opacity="0.87"/>
<polyline points="590.8,106.2 593.4,106.1 599.5,105.4 602.1,105.6 605.7,106.1" stroke="#effafd" stroke-width="0.74" stroke-opacity="0.74"/>
<polyline points="482.5,101.8 483,101.7 485.1,102.1 490.2,103.5 496.3,104.7 499.9,105.2 501.9,105.2" stroke="#effafd" stroke-width="0.7" stroke-opacity="0.53"/>
<polyline points="542.8,104.7 551.5,105.5" stroke="#effafd" stroke-width="1.15" stroke-opacity="0.77"/>
<polyline points="683.8,106.2 686.4,106.4" stroke="#effafd" stroke-width="1.09" stroke-opacity="0.79"/>
<polyline points="498.3,105.7 508.1,107.3 510.6,107.4 515.7,107.1 517.8,107.1 520.3,107.4 524.4,108.1" stroke="#effafd" stroke-width="0.75" stroke-opacity="0.71"/>
<polyline points="545.4,109.6 550,109.8 555.6,109.2 558.6,109.1 561.2,109.3 568.4,110 570.9,110 573.5,109.9" stroke="#effafd" stroke-width="0.9" stroke-opacity="0.65"/>
<polyline points="534.1,108 536.2,108.2 538.2,108.2 544.3,107.8 546.4,107.7 548.4,107.9 554.6,108.6 556.6,108.7 559.2,108.5" stroke="#effafd" stroke-width="1.05" stroke-opacity="0.65"/>
<polyline points="509.1,104.3 514.2,103.7 516.2,103.5 518.3,103.6 522.9,104.2 524.9,104.3 527,104.2 532.6,103.5" stroke="#effafd" stroke-width="1.09" stroke-opacity="0.82"/>
<polyline points="482.5,102.2 483,102.1 485.6,102.6 487.6,103.3 490.2,104.4 493.2,105.2 495.3,105.4 500.4,105.6" stroke="#effafd" stroke-width="0.62" stroke-opacity="0.55"/>
<polyline points="662.4,105.4 668.5,105" stroke="#effafd" stroke-width="0.81" stroke-opacity="0.7"/>
<polyline points="670.6,106.6 674.1,107.1 676.7,107.2 679.2,107 683.8,106.5 686.4,106.4" stroke="#effafd" stroke-width="0.94" stroke-opacity="0.73"/>
<polyline points="659.8,107.5 664.4,107.1 667,107 670,107.1 678.2,107.9 681.3,107.8 685.9,107.4" stroke="#effafd" stroke-width="1.1" stroke-opacity="0.57"/>
<polyline points="541.3,104.7 545.9,105.1 549.4,105.3 552.5,105.2 560.7,104.6 565.8,104.7" stroke="#effafd" stroke-width="1.19" stroke-opacity="0.77"/>
<polyline points="487.6,103 489.7,103.1 494.3,103 497.8,103.6" stroke="#effafd" stroke-width="0.96" stroke-opacity="0.78"/>
<polyline points="569.9,108.1 572.4,108 578.1,107.4 581.1,107.4" stroke="#effafd" stroke-width="0.66" stroke-opacity="0.52"/>
<polyline points="650.1,107.4 652.2,107.7 654.2,107.7 660.8,106.9" stroke="#effafd" stroke-width="0.89" stroke-opacity="0.66"/>
<polyline points="516.2,104.6 518.8,104.5 522.4,104.2" stroke="#effafd" stroke-width="0.69" stroke-opacity="0.66"/>
<polyline points="681.8,104.2 686.4,104.3" stroke="#effafd" stroke-width="1.19" stroke-opacity="0.87"/>
<polyline points="489.7,104.2 496.8,104.6" stroke="#effafd" stroke-width="0.85" stroke-opacity="0.75"/>
<polyline points="501.9,105.5 505,105.8 512.7,106.8 515.2,106.9 518.3,106.9" stroke="#effafd" stroke-width="0.67" stroke-opacity="0.61"/>
<polyline points="545.4,109.7 548.9,109.7 552,109.5" stroke="#effafd" stroke-width="1.18" stroke-opacity="0.53"/>
<polyline points="583.7,104.3 590.3,104.9" stroke="#effafd" stroke-width="1.09" stroke-opacity="0.81"/>
<polyline points="577,106.7 587.8,106 593.4,106.1" stroke="#effafd" stroke-width="0.91" stroke-opacity="0.73"/>
<polyline points="613.8,108.4 616.9,108.4 622,109.1 624.1,109.2 626.1,109.2 631.7,108.5 635.3,108.7" stroke="#effafd" stroke-width="0.83" stroke-opacity="0.56"/>
<polyline points="682.8,106 684.4,106.1 686.4,106" stroke="#effafd" stroke-width="0.74" stroke-opacity="0.57"/>
<polyline points="492.7,105.3 495.8,105.7 499.4,106.1" stroke="#effafd" stroke-width="0.7" stroke-opacity="0.65"/>
<polyline points="558.6,104.4 561.7,104.6 564.8,104.5" stroke="#effafd" stroke-width="1.13" stroke-opacity="0.51"/>
<polyline points="611.8,105.1 614.9,105.1 620,104.5 622.5,104.4 625.1,104.5 630.2,105.2 633.8,105.2" stroke="#effafd" stroke-width="0.69" stroke-opacity="0.69"/>
<polyline points="610.8,103.8 617.9,103.1 620.5,103.2 623.5,103.6" stroke="#effafd" stroke-width="0.71" stroke-opacity="0.77"/>
<polyline points="643,105.4 651.1,104.8 654.2,104.7" stroke="#effafd" stroke-width="1" stroke-opacity="0.52"/>
<polyline points="624.6,109 627.1,109.4 629.2,109.5 634.3,108.9 636.3,108.7 638.4,108.9 641.9,109.5 644,109.6 646,109.5 650.1,108.9 652.2,108.9" stroke="#effafd" stroke-width="0.77" stroke-opacity="0.56"/>
<polyline points="557.1,104.5 560.7,104.6 565.8,105.2 567.8,105.3 569.9,105.3 572.4,105" stroke="#effafd" stroke-width="0.72" stroke-opacity="0.87"/>
<polyline points="602.1,103.4 605.7,103.5 611.3,102.9 613.8,102.8 616.4,102.9 621,103.5" stroke="#effafd" stroke-width="0.62" stroke-opacity="0.51"/>
<polyline points="635.3,108.7 637.9,108.6 643.5,108 646,108" stroke="#effafd" stroke-width="1.06" stroke-opacity="0.84"/>
<polyline points="593.4,109.3 599.5,108.6 601.6,108.7 606.2,109.4 608.2,109.5 610.3,109.4 615.4,108.8 618.4,108.9" stroke="#effafd" stroke-width="0.75" stroke-opacity="0.65"/>
<polyline points="482.5,101.8 483.5,101.8 485.6,102 490.7,103.5" stroke="#effafd" stroke-width="0.63" stroke-opacity="0.63"/>
<polyline points="482.5,101.7 483,101.7 485.1,102.2 491.7,103.9 497.8,105 500.4,105.2 507.5,104.8" stroke="#effafd" stroke-width="1.17" stroke-opacity="0.66"/>
<polyline points="488.1,103.9 494.3,105.1" stroke="#effafd" stroke-width="0.7" stroke-opacity="0.56"/>
<polyline points="626.6,106.4 634.8,105.7 636.8,105.8 641.9,106.4 644,106.5 646.5,106.4 651.7,105.8 655.2,105.9" stroke="#effafd" stroke-width="1.11" stroke-opacity="0.54"/>
<polyline points="509.6,104.9 512.1,105.2 514.2,105.3 520.3,104.7 522.4,104.6" stroke="#effafd" stroke-width="0.71" stroke-opacity="0.88"/>
<polyline points="683.8,108.9 686.4,109.1" stroke="#effafd" stroke-width="1.06" stroke-opacity="0.56"/>
<polyline points="524.9,106.2 530,107 532.1,107.2 534.6,107.1 539.7,106.7" stroke="#effafd" stroke-width="0.73" stroke-opacity="0.51"/>
<polyline points="595.4,109 598.5,109.2 601.1,109.2 608.7,108.6 611.8,108.5 614.3,108.6 617.9,108.9" stroke="#effafd" stroke-width="1.02" stroke-opacity="0.64"/>
<polyline points="622.5,105.5 625.6,105.6 631.7,106.2 634.3,106.4 636.8,106.2 641.9,105.7 645,105.7" stroke="#effafd" stroke-width="0.94" stroke-opacity="0.74"/>
<polyline points="678.2,107.8 681.8,107.9 686.4,108.2" stroke="#effafd" stroke-width="1.06" stroke-opacity="0.74"/>
<polyline points="504.5,103.7 511.1,103.1 515.2,102.9" stroke="#effafd" stroke-width="0.98" stroke-opacity="0.56"/>
<polyline points="645,105.7 648.1,105.5 651.1,105.4 659.8,106.2 663.9,106.3" stroke="#effafd" stroke-width="1.05" stroke-opacity="0.84"/>
<polyline points="685.4,108.8 686.4,108.7" stroke="#effafd" stroke-width="1.2" stroke-opacity="0.89"/>
<polyline points="594.4,102.7 597.5,102.7 603.1,102.1 605.7,102" stroke="#effafd" stroke-width="0.61" stroke-opacity="0.63"/>
<polyline points="516.2,101 518.8,101 524.4,101.4 526.4,101.3 528.5,101.1" stroke="#effafd" stroke-width="0.53" stroke-opacity="0.5"/>
<polyline points="637.9,102.5 640.4,102.5 643,102.2" stroke="#effafd" stroke-width="0.63" stroke-opacity="0.52"/>
<polyline points="673.6,99.8 679.2,99.7" stroke="#effafd" stroke-width="0.56" stroke-opacity="0.48"/>
<polyline points="645,102.4 649.6,102.7 653.2,102.7" stroke="#effafd" stroke-width="0.59" stroke-opacity="0.56"/>
<polyline points="624.1,102.4 627.1,102.6 630.2,102.7 638.9,102" stroke="#effafd" stroke-width="0.71" stroke-opacity="0.63"/>
<polyline points="681.8,101.4 686.4,100.9" stroke="#effafd" stroke-width="0.71" stroke-opacity="0.43"/>
<polyline points="536.7,98.9 542.3,99.2" stroke="#effafd" stroke-width="0.55" stroke-opacity="0.52"/>
<polyline points="484.2,84.8 484,90 484.1,95 484.6,99 486,101.2" stroke="#377eb8" stroke-width="0.9" stroke-opacity="0.85"/>
<polyline points="482.5,84.6 498.3,86 509.1,87.6 512.1,87.7 520.3,87.9 530.5,89.1 534.1,89.4 537.7,89.3 544.8,88.5 548.4,88.3 552,88.4 559.2,89.1 562.2,89.3 574,88.8 589.3,88.7 593.4,88.8 601.1,89.3 604.1,89.4 607.7,89.2 614.3,88.5 617.4,88.4 620.5,88.6 627.1,89.3 630.7,89.5 633.3,89.4 639.9,88.9 643.5,88.8 654.2,89.2 666,88.9 674.6,89.4 677.7,89.5 680.8,89.4 686.4,88.8" stroke="#377eb8" stroke-width="0.8" stroke-opacity="0.75"/>
<polyline points="482.5,86.5 486.1,86.8 495.3,88 507.5,88.3 519.3,89.2 525.4,89.9 530.5,90.2 534.1,90.1 542.3,89.6 553,90 564.3,89.6 587.3,90.3 590.3,90.2 597.5,89.4 600.5,89.2 604.1,89.4 611.3,90.3 614.9,90.5 638.4,89.6 641.4,89.7 649.6,90.2 659.3,90.1 667.5,90.4 671.1,90.3 679.8,89.7 686.4,90" stroke="#377eb8" stroke-width="0.8" stroke-opacity="0.75"/>
<polyline points="482.5,89.5 495.3,90.8 532.6,91.1 547.4,91.5 552.5,91.4 566.8,91 585.2,91.5 603.1,91.2 642.5,91.5 660.8,91.3 677.2,91.7 686.4,91.5" stroke="#377eb8" stroke-width="0.8" stroke-opacity="0.75"/>
<polyline points="484,85 486,88 487.4,90.6 489,88.6 492,87" stroke="#377eb8" stroke-width="0.8" stroke-opacity="0.8"/>
<polyline points="577,88.5 581.5,95 586,88.5" stroke="#377eb8" stroke-width="0.8" stroke-opacity="0.8"/>
<polygon points="482.5,78.4 490.2,77.9 500.4,77 539.7,75.3 630.2,73.8 683.8,71.8 686.4,71.8 686.4,88.6 580.1,88 550.5,87.3 530,86.6 499.9,85 482.5,83.8" fill="#984ea3" stroke="none"/>
<polyline points="482.5,78.4 486.6,78 494.3,76.7 497.8,76.3 500.4,76.1 509.1,76.3 512.1,76.3 515.7,75.9 524.4,74.5 528.5,74.1 532.1,74.1 541.3,74.6 544.3,74.7 547.9,74.5 558.1,73.8 572.4,73.9 583.2,73.3 586.7,73.2 590.3,73.2 598,73.7 601.6,73.8 605.7,73.5 614.3,72.6 617.9,72.4 622,72.5 629.7,73.2 633.3,73.2 637.3,73 645.5,72 649.6,71.7 653.2,71.6 662.9,71.8 666.5,71.7 677.7,70.8 682.3,70.8 686.4,71" stroke="#984ea3" stroke-width="0.9" stroke-opacity="0.8"/>
<polyline points="482.5,78.4 496.8,76.5 501.9,75.4 508.1,73.8 511.1,73.5 521.8,73.7 532.1,73.3 542.8,73.6 545.9,73.4 553,72.4 556.1,72.1 559.2,72.1 566.3,72.7 569.9,72.8 580.1,72.2 590.8,72.2 598.5,71.6 601.6,71.4 605.1,71.6 612.8,72.5 615.9,72.6 618.9,72.4 628.1,71.2 638.4,70.8 646.5,70.3 650.6,70.4 658.3,71.2 662.4,71.3 665.4,71 672.6,69.8 675.7,69.4 679.2,69.2 686.4,69.2" stroke="#984ea3" stroke-width="0.9" stroke-opacity="0.8"/>
<polyline points="482.5,78.4 483,78.4 498.3,75.2 503.5,74 508.1,72.5 511.6,72 514.7,71.7 518.3,71.7 526.4,72.5 530.5,72.6 534.1,72.3 541.8,71.4 546.4,71.1 557.6,71.2 568.4,70.9 579.6,70.9 590.3,70.5 601.1,70.9 604.1,70.8 608.2,70.5 615.9,69.6 619.5,69.4 623.5,69.6 631.2,70.5 635.3,70.6 639.4,70.3 650.1,68.9 656.2,68.5 666,68.4 679.2,68.9 682.3,68.8 686.4,68.4" stroke="#984ea3" stroke-width="0.9" stroke-opacity="0.8"/>
<polyline points="482.5,80.6 483.9,80.5 485.2,80.1 485.9,79.8 486.6,79.1 487.3,77.8 489.3,66.4 490.7,59.5 493.4,48.1 495.5,41.3 496.8,37.5 498.9,32.7 500.9,29 503,26.2 505.7,23.2 508.4,20.8 512.5,17.6 515.9,15.3 519.3,13.3 524.1,11.1 528.2,9.5 536.4,7.3 539.1,6.8 541.1,6.6 543.2,6.6 545.9,6.9 552.7,8.2 556.8,9.4 561.6,11.3 564.3,12.8 571.2,16.9 573.9,18.4 582.1,22.3 587.5,24.6 591.6,25.9 596.4,27 599.8,27.6 605.9,28.1 608,28.1 610,27.9 615.5,26.9 618.9,25.9 625.7,23.4 629.1,22 631.8,20.7 647.5,11.5 650.3,10.4 653.7,9.4 656.4,8.7 659.1,8.4 661.9,8.5 665.3,8.8 671.4,9.7 674.8,10.4 678.2,11.3 682.3,12.6 686.4,14.2" stroke="#984ea3" stroke-width="0.8" stroke-opacity="0.9"/>
<polyline points="482.5,80.6 483.9,80.5 485.2,80.1 485.9,79.8 486.6,79.1 487.3,77.8 490,62.8 491.4,56.4 492.7,50.7 494.1,45.7 495.5,41.3 496.8,37.5 498.2,34.1 500.2,30.1 502.3,27.1 506.4,22.4 507.7,21.2 508.4,20.9 509.1,20.8 511.1,21 521.4,23.1 528.2,23.7 533.6,23.9 535.7,23.6 537.7,23 543.2,21.1 552.7,17.9 555.5,17.3 557.5,17.2 558.9,17.6 561.6,19.2 563,20.3 569.8,26.4 571.8,27.9 572.5,28.2 574.6,28.6 579.3,29.3 582.7,29.5 584.8,29.4 586.2,29 590.9,26.9 593,26.5 595,26.7 599.8,27.6 603.9,28 607.3,28.1 610.7,27.8 615.5,26.9 617.5,26.4 622.3,24.7 627.1,22.4 628.4,21.9 629.8,21.8 631.8,22.3 634.6,23.4 645.5,27.3 648.9,28.2 650.3,28.3 652.3,28.2 661.9,26.7 664.6,26.5 668,27 674.8,28.5 686.4,30" stroke="#984ea3" stroke-width="0.8" stroke-opacity="0.9"/>
<polyline points="482.5,80.6 484.5,80.5 486.6,80 488,79.4 488.6,78.9 489.3,78 490,75.9 491.4,70.2 492,67.9 495.5,59.6 498.2,51.6 499.5,48.1 500.2,47 500.9,46.5 503,45.5 505,44.9 506.4,44.8 507.7,44.9 511.8,46 518,47.4 520.7,47.7 522.7,47.7 527.5,47 543.9,43.7 549.3,42.8 554.8,42.3 560.2,41.9 565,41.8 569.1,42.1 580.7,43.4 584.1,43.6 587.5,43.5 591.6,43.2 597.7,42.4 599.8,41.9 606.6,40 608.7,39.7 610,39.6 614.1,39.8 623.7,41.3 631.8,42.4 639.3,43.2 650.3,44.3 655,44.5 657.1,44.3 663.2,43.1 664.6,43 669.4,43.1 674.1,43.4 678.2,43.9 682.3,44.6 686.4,45.7" stroke="#984ea3" stroke-width="0.8" stroke-opacity="0.9"/>
<polyline points="482.5,80.6 484.5,80.5 487.3,80.1 488.6,79.7 490.7,78.5 492,76.7 494.8,72.3 497.5,69.5 500.2,67.2 503.6,64.9 506.4,63.2 509.1,61.9 514.6,59.7 516.6,59.3 518,59.2 519.3,59.6 520.7,60.3 523.4,62 525.5,63.8 526.8,64.6 528.9,64.6 532.3,63.9 537.7,62.2 540.5,61 543.2,59.6 545.2,58.3 549.3,55.2 550.7,54 554.1,50.5 555.5,49.6 556.1,49.3 557.5,49.2 558.9,49.4 560.9,49.9 563,50.7 563.7,51.1 564.3,51.8 567.1,55.4 567.7,56.1 568.4,56.5 569.1,56.6 573.2,56.4 578,56 588.9,54.6 595,53.6 599.1,52.7 601.2,51.9 605.9,49.5 607.3,49.1 608.7,48.9 613.4,49.2 619.6,50 625.7,51.8 627.8,52.1 631.8,51.9 642.1,50.8 653.7,50.1 671.4,49.4 686.4,49.2" stroke="#984ea3" stroke-width="0.8" stroke-opacity="0.9"/>
<polyline points="482.5,80.6 483.9,80.5 485.9,80 488,79.1 490,78 490.7,77.5 492,76.2 495.5,72 496.8,70.6 497.5,70.1 498.9,69.3 503,67.5 507.7,65.9 513.2,64.6 519.3,63.5 527.5,62.5 543.2,60.9 556.1,59.2 560.2,58.9 563.7,58.8 565.7,59.4 569.1,61.1 569.8,61.8 571.8,64.4 572.5,65.1 573.2,65.4 574.6,65.4 578,65 581.4,64.4 585.5,63.3 590.2,61.7 593.7,60.5 599.1,57.2 600.5,56.7 601.2,56.6 605.9,56.8 612.1,57.3 614.1,57.9 619.6,59.9 620.9,60.2 622.3,60.3 627.1,60 640,58.3 648.2,57.6 669.4,56.4 678.2,56.1 686.4,56" stroke="#984ea3" stroke-width="0.8" stroke-opacity="0.9"/>
<polyline points="482.5,80.9 498.9,72.5 503,70.7 505.7,69.8 510.5,68.7 520.7,66.9 533.6,65.2 554.1,63.1 561.6,62.6 575.9,62.1 589.6,61.7 599.1,61.7 604.6,62.2 615.5,63.6 620.9,64 632.5,63.8 642.8,63.2 643.4,63.1 644.8,62.7 648.2,60.9 650.3,59.6 654.3,56.4 656.4,55 658.4,54 659.8,53.6 663.9,53.8 668,54.4 668.7,55 669.4,56.3 672.1,63.2 672.8,64.5 673.4,65.3 676.2,66 679.6,66.6 683,66.9 686.4,67" stroke="#984ea3" stroke-width="0.8" stroke-opacity="0.9"/>
<polyline points="482.5,80.8 505,70.2 506.4,69.7 509.1,69 513.2,68.3 515.2,68.2 520,68.3 530.2,68.6 532.3,68.9 537.1,69.8 539.1,69.9 540.5,69.5 543.9,67.4 545.2,66.8 550.7,65.2 552.7,64.8 554.8,64.5 560.9,64.2 574.6,63.8 586.2,63.3 647.5,59.6 669.4,58.8 686.4,58.5" stroke="#984ea3" stroke-width="0.8" stroke-opacity="0.9"/>
<polyline points="482.5,80.9 487.3,78.1 492,75.5 499.5,71.7 503.6,70 508.4,68.4 512.5,67.4 514.6,67.1 520.7,66.4 526.8,66.1 531.6,66.1 534.3,66.5 541.8,68.2 545.2,68.5 549.3,68.2 558.2,67.1 565,66.8 580,66.5 598.4,67 608.7,66.9 623.7,66.4 634.6,65.8 642.1,65.4 658.4,64.1 673.4,63.6 686.4,63.5" stroke="#984ea3" stroke-width="0.8" stroke-opacity="0.9"/>
<polyline points="482.5,80.8 489.3,78.3 499.5,74.8 506.4,72.7 509.8,72 515.9,71.1 524.8,70.2 528.9,70 532.3,70 545.9,70.9 551.4,71 554.8,70.8 564.3,69.8 568.4,69.5 573.9,69.5 588.2,70 598.4,69.9 612.1,69.4 629.1,68.5 662.5,67.6 686.4,66.5" stroke="#984ea3" stroke-width="0.8" stroke-opacity="0.9"/>
<polyline points="482.5,80.7 493.4,78.1 509.1,74.8 515.2,74 528.2,73 539.8,72.5 560.9,72 567.7,72 581.4,72.5 586.8,72.5 590.9,72.3 604.6,71.2 646.8,70.3 686.4,69" stroke="#984ea3" stroke-width="0.8" stroke-opacity="0.9"/>
<polyline points="482.5,80.6 483,80.6 487.1,79 508.1,75.3 517.2,74.1 526.4,72.6 535.6,72 543.8,71 555.6,69.2 558.6,69.1 564.8,69.5 567.3,69.4 569.9,69 575.5,67.7 578.1,67.4 580.6,67.4 585.7,68 588.3,68 591.3,67.5 597.5,65.9 600,65.5 602.6,65.5 609.7,65.9 614.9,65.8 621.5,65.4 630.7,64.6 639.4,64.3 648.1,63.5 651.1,63.5 656.2,63.8 658.8,63.8 661.4,63.5 666.5,62.7 668.5,62.5 671.1,62.5 676.2,63 678.2,63 681.3,62.6 686.4,61.4" stroke="#984ea3" stroke-width="0.8" stroke-opacity="0.8"/>
<polyline points="482.5,80.6 483,80.6 487.1,79 500.4,76.3 504.5,75.9 513.7,75.3 516.2,75 524.4,73.4 527,73.2 534.6,72.8 543.8,71.5 547.4,71.3 553.5,71.5 556.6,71.3 559.2,70.9 564.8,69.8 567.3,69.5 570.4,69.4 576.5,69.7 579.6,69.6 588.8,68.4 599,68 602.1,67.7 607.7,66.8 610.3,66.6 613.3,66.7 620.5,67.5 623.5,67.5 633.8,66.1 643.5,65.8 652.7,64.8 656.2,64.9 663.4,65.8 666.5,65.8 669.5,65.5 675.2,64.3 677.7,63.9 680.8,63.7 686.4,63.7" stroke="#984ea3" stroke-width="0.8" stroke-opacity="0.8"/>
<polyline points="482.5,80.6 483,80.6 487.1,79 494.3,77.6 499.9,76.3 501.9,76 506,75.7 512.1,75.6 515.2,75.5 518.8,75 525.9,73.7 530,73.2 542.3,72.2 556.6,71.8 573,70 578.1,69.8 586.2,70.1 589.3,70.1 592.9,69.7 600,68.2 602.6,67.9 606.2,67.9 612.8,68.7 615.9,68.7 618.4,68.5 624.1,67.7 627.1,67.4 629.7,67.4 635.3,67.7 638.4,67.6 645.5,66.5 648.1,66.3 651.1,66.4 657.8,67.3 660.3,67.4 663.4,66.9 669.5,65.4 672.1,65.1 675.2,65.2 680.3,66.1 682.3,66.3 684.4,66.3 686.4,66.2" stroke="#984ea3" stroke-width="0.8" stroke-opacity="0.8"/>
<polyline points="482.5,80.6 483,80.6 487.1,79 495.3,77.5 499.9,76.5 502.4,76.2 512.1,75.5 519.3,74.8 526.4,74.3 533.6,73.6 536.7,73.6 542.3,74 544.3,73.9 546.4,73.6 551.5,72.4 554,72 556.1,71.9 562.7,72 570.9,70.8 573.5,70.9 579.1,72 581.6,72.1 584.2,71.7 589.3,70.1 591.3,69.7 593.9,69.7 599,70.4 601.6,70.5 604.1,70.2 609.2,68.8 611.8,68.4 614.3,68.5 621,69.5 624.6,69.6 635.3,69.1 643,68.1 645.5,67.8 654.2,68.1 661.4,67.4 663.4,67.3 666,67.5 670.6,68.1 672.6,68.2 675.2,68 681.3,67 683.8,67 686.4,67.2" stroke="#984ea3" stroke-width="0.8" stroke-opacity="0.8"/>
<polyline points="482.5,80.6 483,80.6 487.1,79 499.9,76.6 507.5,76.2 515.7,75 518.3,74.9 521.3,75 527,75.7 529.5,75.6 532.1,75.1 537.7,73.3 540.2,72.9 542.8,73.1 548.4,74.1 551,74.3 553.5,74.1 559.7,72.7 562.7,72.2 565.3,72.2 573.5,72.4 582.2,72.2 586.2,71.8 592.9,70.6 595.4,70.4 598.5,70.6 603.6,71.4 606.2,71.5 608.7,71.2 614.3,69.9 616.9,69.5 619.5,69.6 625.1,70.4 628.1,70.6 630.2,70.5 635.8,69.6 638.4,69.4 647.1,69.4 654.7,69.1 662.9,69.3 665.4,69.1 671.1,68.3 673.6,68.1 676.2,68.1 682.3,68.8 684.4,68.8 686.4,68.6" stroke="#984ea3" stroke-width="0.8" stroke-opacity="0.8"/>
<polyline points="482.5,80.6 483,80.6 487.1,79 499.9,76.5 506.5,76.4 515.2,75.8 522.4,75.6 531.6,74.7 539.7,74.6 542.3,74.3 546.9,73.5 548.9,73.3 552,73.4 558.1,74.8 560.7,74.9 562.2,74.8 563.8,74.5 569.9,72.5 571.4,72.2 573,72.1 575.5,72.2 580.6,72.8 583.2,72.8 585.7,72.6 593.4,71.7 600,71.5 604.1,71.7 610.3,72.3 612.8,72.3 615.9,72 622,70.6 625.1,70.2 627.6,70.2 634.8,71 637.3,70.9 644,70.4 653.2,70.9 655.2,70.8 660.3,70 662.9,69.8 665.4,69.9 670.6,70.3 672.6,70.3 675.2,70 679.8,68.9 681.8,68.6 683.8,68.5 686.4,68.7" stroke="#984ea3" stroke-width="0.8" stroke-opacity="0.8"/>
<polyline points="482.5,80.6 483,80.6 487.1,79 500.4,76.4 517.2,76 530,75.1 533.6,75.1 540.2,75.4 543.8,75.4 547.4,75.1 554.6,74.1 558.1,73.9 561.2,73.9 567.8,74.3 570.9,74.3 574.5,73.9 581.6,72.8 584.7,72.5 588.3,72.6 595.9,73.4 599,73.5 602.6,73.1 610.3,71.7 613.3,71.4 616.4,71.5 623,72.2 626.1,72.4 629.7,72.3 636.3,71.5 639.4,71.3 642.5,71.3 649.1,71.9 652.2,71.9 655.7,71.6 663.4,70.3 667,70 670.6,70.2 676.7,71.1 679.8,71.4 682.8,71.4 686.4,71.1" stroke="#984ea3" stroke-width="0.8" stroke-opacity="0.8"/>
<polyline points="482.5,80.6 483,80.6 487.1,79 496.3,77.3 507.5,74.7 511.6,74.2 519.3,73.9 522.4,73.4 525.4,72.6 531,70.6 533.6,69.8 536.2,69.3 538.7,69 540.2,68.9 547.9,69.4 551.5,69.4 555.6,69.1 565.8,67.7 570.4,67.3 574.5,67.2 586.2,67.1 600,65.9 609.7,65.6 618.9,65.1 632.7,65.3 636.3,65 643,64.1 646,63.8 649.6,63.9 656.2,64.5 659.3,64.6 662.9,64.2 669.5,63 672.6,62.7 676.2,62.9 683.3,63.8 686.4,63.8" stroke="#984ea3" stroke-width="0.8" stroke-opacity="0.8"/>
<polyline points="600,63.5 640.4,63.5 646.5,63.3 649.1,62.8 651.1,62.2 653.2,61.2 658.3,58.1 659.8,57.6 660.8,57.5 661.9,57.6 663.4,58 664.9,58.8 669.5,61.6 671.1,62.3 673.1,62.9 675.2,63.2 677.2,63.4 686.4,63.5" stroke="#984ea3" stroke-width="0.8" stroke-opacity="0.75"/>
<polyline points="600,66 640.4,66 646.5,65.8 649.1,65.5 651.1,64.9 653.2,64.1 658.3,61.5 659.8,61.1 660.8,61 661.9,61.1 663.4,61.4 664.9,62.1 669.5,64.4 671.1,65 673.1,65.5 677.2,65.9 686.4,66" stroke="#984ea3" stroke-width="0.8" stroke-opacity="0.75"/>
<polyline points="600,68.5 640.4,68.5 646.5,68.3 649.1,68.1 651.1,67.6 653.2,67 658.3,64.9 659.8,64.6 660.8,64.5 661.9,64.5 663.4,64.8 669.5,67.2 671.1,67.7 673.1,68.1 677.2,68.4 686.4,68.5" stroke="#984ea3" stroke-width="0.8" stroke-opacity="0.75"/>
</g>
<rect x="57.5" y="151" width="201" height="138.4" fill="#effafd"/>
<g clip-path="url(#c3)" fill="none" stroke-linejoin="round">
<polygon points="55.5,161.4 125,159.9 191,159.1 260.5,158.8 260.5,169.9 55.5,169.4" fill="#984ea3" stroke="none"/>
<polyline points="55.5,170.2 61.7,170.2 80.2,169.6 103.9,170.2 125.6,169.6 131.7,169.7 149.2,170.2 171.9,169.6 195.6,170.2 217.2,169.6 223.4,169.7 240.9,170.2 247.1,170.1 260.5,169.6" stroke="#984ea3" stroke-width="0.8" stroke-opacity="0.55"/>
<polyline points="55.5,219.3 58.6,219.3 61.7,218.8 64.8,217.7 71,214.8 74,213.5 77.1,212.6 80.2,212.3 82.3,212.4 85.4,213.2 88.5,214.3 96.7,218.1 99.8,219 102.9,219.4 104.9,219.3 108,218.7 111.1,217.5 117.3,214.6 120.4,213.4 123.5,212.5 125.6,212.3 127.6,212.4 130.7,213 133.8,214 140,216.9 143.1,218.2 146.2,219.1 149.2,219.4 151.3,219.3 154.4,218.5 157.5,217.4 163.7,214.5 165.7,213.6 168.8,212.7 170.9,212.4 174,212.4 177.1,213.1 180.1,214.2 186.3,217.1 189.4,218.3 192.5,219.2 195.6,219.4 197.7,219.2 200.8,218.4 203.8,217.2 211.1,213.9 214.1,212.8 216.2,212.4 219.3,212.3 222.4,212.9 224.4,213.5 226.5,214.3 232.7,217.3 234.7,218.1 237.8,219 240.9,219.4 244,219.1 247.1,218.3 250.2,217 256.4,214.1 258.4,213.3 260.5,212.7" stroke="#377eb8" stroke-width="1"/>
<polyline points="55.5,216.8 58.6,216.8 61.7,216.5 64.8,216.1 74,214.4 77.1,214 80.2,213.9 82.3,214 85.4,214.2 96.7,216.3 99.8,216.6 102.9,216.8 104.9,216.8 108,216.5 120.4,214.3 125.6,213.9 127.6,213.9 130.7,214.2 133.8,214.6 143.1,216.3 146.2,216.7 149.2,216.8 151.3,216.7 154.4,216.5 165.7,214.4 170.9,213.9 174,213.9 177.1,214.2 189.4,216.4 192.5,216.7 195.6,216.8 200.8,216.4 211.1,214.5 216.2,214 219.3,213.9 222.4,214.1 226.5,214.7 234.7,216.3 237.8,216.6 240.9,216.8 244,216.7 247.1,216.4 256.4,214.7 260.5,214.1" stroke="#377eb8" stroke-width="1"/>
<polyline points="55.5,218 57.6,217.9 60.7,217.4 63.7,216.6 72,214.1 75.1,213.4 78.2,213.2 81.3,213.4 84.3,214 93.6,216.8 96.7,217.5 99.8,217.9 101.9,218 103.9,217.9 107,217.3 118.3,214 121.4,213.4 123.5,213.2 126.6,213.3 129.7,213.8 132.8,214.6 141,217.1 144.1,217.8 147.2,218 149.2,217.9 152.3,217.5 155.4,216.7 161.6,214.7 164.7,213.9 167.8,213.3 169.8,213.2 172.9,213.3 176,213.9 179.1,214.7 185.3,216.7 188.4,217.5 191.5,217.9 194.6,218 196.6,217.8 199.7,217.2 208,214.6 211.1,213.8 214.1,213.3 216.2,213.2 219.3,213.4 222.4,214 231.7,216.8 234.7,217.5 237.8,217.9 239.9,218 242,217.9 245,217.3 248.1,216.5 255.3,214.2 258.4,213.5 260.5,213.3" stroke="#377eb8" stroke-width="0.8" stroke-opacity="0.6"/>
<polyline points="55.5,238.1 59.6,238.3 64.8,239.2 66.8,239.3 67.9,239.2 69.9,238.7 78.2,236.1 80.2,235.9 82.3,236.2 86.4,237.3 89.5,237.9 92.6,238.1 103.9,238.2 107,238.5 111.1,239.2 113.2,239.3 116.3,238.6 123.5,236.3 125.6,235.9 126.6,235.9 128.6,236.2 132.8,237.4 135.9,237.9 138.9,238.1 150.3,238.2 152.3,238.4 156.5,239.1 158.5,239.3 159.5,239.2 161.6,238.8 169.8,236.2 171.9,235.9 174,236.1 179.1,237.5 181.2,237.9 184.3,238.1 196.6,238.2 198.7,238.4 202.8,239.2 204.9,239.3 205.9,239.2 208,238.7 216.2,236.1 218.3,235.9 220.3,236.2 224.4,237.4 227.5,237.9 230.6,238.1 243,238.2 250.2,239.3 251.2,239.3 253.3,238.9 260.5,236.6" stroke="#4daf4a" stroke-width="0.85"/>
</g>
<rect x="270.4" y="151" width="201" height="138.4" fill="#effafd"/>
<g clip-path="url(#c4)" fill="none" stroke-linejoin="round">
<polygon points="268.4,161.4 334.4,160 365.7,159.5 403.9,158.9 473.4,158.4 473.4,169.9 268.4,169.4" fill="#984ea3" stroke="none"/>
<polyline points="268.4,169.6 281.7,170.1 287.6,170.2 293.4,170.1 306,169.7 312.2,169.6 333.4,170.2 339.2,170.1 351.6,169.7 357.4,169.6 379.6,170.2 403.2,169.6 425.5,170.2 449.1,169.6 466.9,170.1 473.4,170.2" stroke="#984ea3" stroke-width="0.8" stroke-opacity="0.55"/>
<polyline points="268.4,208.8 473.4,208.8" stroke="#377eb8" stroke-width="1"/>
<polyline points="268.4,209.5 473.4,209.5" stroke="#377eb8" stroke-width="1"/>
<polyline points="268.4,210.4 473.4,210.4" stroke="#377eb8" stroke-width="0.8" stroke-opacity="0.4"/>
<polyline points="268.4,218.9 270.8,218.9 273.5,218.6 276.3,218.1 279,217.4 281.7,216.4 284.8,215.1 292.4,211.3 292.7,211.3 300.6,215.2 305.4,217.1 308.1,218 310.5,218.5 312.9,218.8 315.3,218.9 317.7,218.8 320.1,218.5 322.5,218 325.2,217.2 327.9,216.2 330.7,215 338.2,211.2 345.7,215 350.9,217 353.6,217.9 356,218.4 358.4,218.8 360.8,218.9 363.2,218.8 365.9,218.5 368.3,218 371.1,217.2 373.8,216.2 376.5,215 384.1,211.2 391.6,215 396.7,217.1 399.5,217.9 401.9,218.4 404.3,218.8 406.7,218.9 409.1,218.8 411.8,218.5 414.2,218 416.9,217.2 419.7,216.2 422.4,215 429.9,211.2 437.1,214.9 442.3,217 445,217.8 447.4,218.4 449.8,218.7 452.2,218.9 454.6,218.8 457,218.6 459.4,218.1 461.8,217.5 466.9,215.6 473.4,212.4" stroke="#377eb8" stroke-width="0.8" stroke-opacity="0.9"/>
<polyline points="268.4,218.9 270.8,218.9 273.5,218.6 276.3,218.1 279,217.4 281.7,216.5 284.8,215.3 292.4,211.7 292.7,211.7 300.6,215.4 305.4,217.2 308.1,218 310.5,218.5 312.9,218.8 315.3,218.9 317.7,218.8 320.1,218.5 322.5,218.1 325.2,217.3 330.7,215.2 338.2,211.6 345.7,215.2 350.9,217.1 353.6,217.9 356,218.4 358.4,218.8 360.8,218.9 363.2,218.8 365.9,218.5 368.3,218 371.1,217.3 376.5,215.2 384.1,211.6 391.6,215.2 396.7,217.2 399.5,217.9 401.9,218.5 404.3,218.8 406.7,218.9 409.1,218.8 411.8,218.5 414.2,218 416.9,217.3 422.4,215.2 429.9,211.6 437.1,215.1 442.3,217.1 445,217.9 447.4,218.4 449.8,218.7 452.2,218.9 454.6,218.8 457,218.6 459.4,218.2 461.8,217.6 466.9,215.7 473.4,212.7" stroke="#377eb8" stroke-width="0.8" stroke-opacity="0.85"/>
<polyline points="268.4,218.9 270.8,218.9 273.5,218.7 276.3,218.2 279,217.5 281.7,216.6 284.8,215.5 292.4,212.1 292.7,212.1 300.6,215.6 305.4,217.3 308.1,218.1 310.5,218.5 312.9,218.8 315.3,218.9 317.7,218.8 320.1,218.5 322.5,218.1 325.2,217.4 330.7,215.4 338.2,212 345.7,215.4 350.9,217.2 353.6,218 356,218.5 358.4,218.8 360.8,218.9 363.2,218.8 365.9,218.5 368.3,218.1 371.1,217.4 376.5,215.4 384.1,212 391.6,215.4 396.7,217.3 399.5,218 401.9,218.5 404.3,218.8 406.7,218.9 409.1,218.8 411.8,218.5 414.2,218.1 416.9,217.4 422.4,215.4 429.9,212 437.1,215.3 442.3,217.2 445,217.9 447.4,218.4 449.8,218.8 452.2,218.9 454.6,218.8 457,218.6 459.4,218.2 461.8,217.6 466.9,215.9 473.4,213.1" stroke="#377eb8" stroke-width="0.8" stroke-opacity="0.8"/>
<polyline points="268.4,219 270.8,219 273.5,218.7 276.3,218.2 279,217.5 281.7,216.5 284.8,215.2 292.4,211.5 292.7,211.5 300.6,215.4 305.4,217.3 308.1,218.1 310.5,218.6 312.9,218.9 315.3,219 317.7,218.9 320.1,218.6 322.5,218.1 325.2,217.3 327.9,216.4 330.7,215.2 338.2,211.4 345.7,215.1 350.9,217.2 353.6,218 356,218.5 358.4,218.9 360.8,219 363.2,218.9 365.9,218.6 368.3,218.1 371.1,217.3 373.8,216.3 376.5,215.2 384.1,211.4 391.6,215.1 396.7,217.2 399.5,218 401.9,218.5 404.3,218.9 406.7,219 409.1,218.9 411.8,218.6 414.2,218.1 416.9,217.3 419.7,216.3 422.4,215.1 429.9,211.4 437.1,215 442.3,217.1 445,217.9 447.4,218.5 449.8,218.8 452.2,219 454.6,218.9 457,218.7 459.4,218.2 461.8,217.6 466.9,215.7 473.4,212.6" stroke="#377eb8" stroke-width="0.8" stroke-opacity="0.7"/>
<polyline points="268.4,209 281.7,209 286.2,209.2 287.9,209.4 289.3,209.8 290.6,210.3 292.4,211.2 292.7,211.2 295.1,210 297.1,209.4 299.9,209.1 304.3,209 325.9,209 331.4,209.1 333.4,209.4 335.1,209.8 336.5,210.3 338.2,211.3 340.6,210.1 342.7,209.5 345.4,209.1 349.5,209 371.8,209 377.2,209.1 378.9,209.3 380.7,209.7 382.4,210.4 384.1,211.3 386.5,210.1 388.2,209.5 390.6,209.2 394.3,209 416.9,209 422.7,209.1 424.8,209.3 426.5,209.7 427.9,210.2 429.9,211.3 432,210.2 433.7,209.6 435.8,209.2 438.8,209.1 467.2,209.1 470.7,209.3 472,209.6 473.4,210.1" stroke="#377eb8" stroke-width="0.8" stroke-opacity="0.8"/>
<polyline points="268.4,209.1 281.7,209.1 286.2,209.3 287.9,209.6 289.3,210 290.6,210.6 292.4,211.7 292.7,211.7 295.1,210.3 297.1,209.6 299.9,209.2 304.3,209.1 325.9,209.1 331.4,209.3 333.4,209.5 335.1,210 336.5,210.7 338.2,211.7 340.6,210.4 342.7,209.6 345.4,209.3 349.5,209.1 371.8,209.1 377.2,209.3 378.9,209.5 380.7,209.9 382.4,210.7 384.1,211.8 386.5,210.4 388.2,209.7 390.6,209.3 394.3,209.1 416.9,209.1 422.7,209.2 424.8,209.5 426.5,209.9 427.9,210.5 429.9,211.8 432,210.5 433.7,209.8 435.8,209.4 438.8,209.2 467.2,209.2 470.7,209.5 472,209.8 473.4,210.4" stroke="#377eb8" stroke-width="0.8" stroke-opacity="0.7"/>
<polyline points="268.4,216.4 278,216.2 281.1,216 283.5,215.6 285.9,215 287.9,214.2 290,213.1 292.4,211.6 292.7,211.6 295.4,213.3 297.5,214.4 299.2,215 301.3,215.5 303.3,215.9 306,216.1 314.3,216.4 323.8,216.2 326.9,216 329.3,215.6 331.7,215 333.8,214.1 335.8,213.1 338.2,211.6 343,214.2 344.7,214.9 346.8,215.5 348.8,215.8 351.6,216.1 359.1,216.4 369,216.2 372.1,216 374.8,215.6 377.2,215 379.3,214.3 381.3,213.2 384.1,211.5 388.2,213.9 389.9,214.7 391.9,215.3 394,215.7 396.4,216 403.2,216.3 414.2,216.3 417.6,216 420.4,215.7 422.7,215.1 424.8,214.4 426.9,213.4 429.9,211.5 433.7,213.8 435.4,214.6 437.1,215.2 440.9,215.9 446.4,216.3 457.3,216.3 461.4,216.2 464.5,215.9 466.9,215.5 469.3,214.9 471.3,214.1 473.4,213" stroke="#377eb8" stroke-width="0.8" stroke-opacity="0.65"/>
<polyline points="268.4,231.6 473.4,231.6" stroke="#4daf4a" stroke-width="1"/>
<polyline points="268.4,232.3 473.4,232.3" stroke="#4daf4a" stroke-width="1"/>
<polyline points="268.4,233.2 473.4,233.2" stroke="#4daf4a" stroke-width="0.8" stroke-opacity="0.4"/>
<polyline points="268.4,238.1 270.8,238.1 277,238.5 279.7,238.4 282.4,238.1 284.8,237.6 287.2,236.9 289.6,235.9 292.4,234.4 292.7,234.4 296.8,236.5 299.9,237.6 303.7,238.3 307.8,238.5 314.9,238.1 322.5,238.5 324.9,238.5 327.6,238.2 330.3,237.7 332.7,237 335.1,236 338.2,234.3 342.3,236.4 345.4,237.5 349.2,238.2 353.6,238.5 360.8,238.1 368.3,238.5 370.7,238.5 373.5,238.2 376.2,237.7 378.6,237 381,236 384.1,234.3 388.2,236.4 391.3,237.5 395,238.2 399.1,238.5 401.5,238.5 406.7,238.1 414.2,238.5 416.6,238.5 419.3,238.2 422.1,237.7 424.5,237 426.9,235.9 429.9,234.3 433.7,236.3 436.8,237.4 440.2,238.2 444.3,238.5 447,238.5 452.5,238.1 459.4,238.5 463.8,238.4 466.6,238 469,237.4 471,236.7 473.4,235.6" stroke="#4daf4a" stroke-width="0.8" stroke-opacity="0.85"/>
<polyline points="268.4,237.9 270.8,237.9 277,238.4 279.7,238.3 282.4,238 284.8,237.5 287.2,236.9 289.6,235.9 292.4,234.6 292.7,234.6 296.8,236.5 299.9,237.5 303.7,238.1 307.8,238.4 314.9,237.9 322.5,238.4 324.9,238.3 327.6,238.1 330.3,237.6 332.7,237 335.1,236 338.2,234.5 342.3,236.4 345.4,237.4 349.2,238.1 353.3,238.4 355.7,238.3 360.8,237.9 368.3,238.4 370.7,238.3 373.5,238.1 376.2,237.6 378.6,236.9 381,236 384.1,234.5 388.2,236.4 391.3,237.4 395,238.1 399.1,238.4 401.5,238.3 406.7,237.9 414.2,238.4 416.6,238.3 419.3,238.1 422.1,237.6 424.5,236.9 426.9,236 429.9,234.5 433.7,236.3 436.8,237.4 440.2,238 444.3,238.3 447,238.3 452.5,237.9 459.4,238.3 463.8,238.2 466.6,237.8 469,237.3 471,236.7 473.4,235.6" stroke="#4daf4a" stroke-width="0.8" stroke-opacity="0.7"/>
<polyline points="268.4,231.8 281.7,231.8 286.2,232 287.9,232.2 289.3,232.6 290.6,233.2 292.4,234.1 292.7,234.1 295.1,232.8 297.1,232.2 299.9,231.9 304.3,231.8 325.9,231.8 331.4,231.9 333.4,232.2 335.1,232.6 336.5,233.2 338.2,234.1 340.6,232.9 342.7,232.3 345.4,231.9 349.5,231.8 371.8,231.8 377.2,231.9 378.9,232.1 380.7,232.5 382.4,233.2 384.1,234.2 386.5,232.9 388.2,232.4 390.6,232 394.3,231.8 416.9,231.8 422.7,231.9 424.8,232.1 426.5,232.5 427.9,233.1 429.9,234.2 432,233 433.7,232.4 435.8,232 438.8,231.9 467.2,231.9 470.7,232.2 472,232.5 473.4,233" stroke="#4daf4a" stroke-width="0.8" stroke-opacity="0.8"/>
<polyline points="268.4,232.4 281.7,232.4 286.2,232.6 289.3,233.1 290.6,233.5 292.4,234.3 292.7,234.3 295.1,233.3 297.1,232.8 299.9,232.5 304.3,232.4 325.9,232.4 331.4,232.5 333.4,232.7 335.1,233.1 336.5,233.6 338.2,234.4 340.6,233.4 342.7,232.8 345.4,232.5 349.5,232.4 371.8,232.4 377.2,232.5 378.9,232.7 380.7,233 382.4,233.6 384.1,234.4 386.5,233.3 388.2,232.9 390.6,232.6 394.3,232.4 416.9,232.4 422.7,232.5 424.8,232.7 426.5,233 427.9,233.5 429.9,234.4 432,233.4 433.7,232.9 435.8,232.6 438.8,232.4 467.2,232.5 470.7,232.7 473.4,233.4" stroke="#4daf4a" stroke-width="0.8" stroke-opacity="0.7"/>
</g>
<rect x="483.5" y="151" width="200.9" height="138.4" fill="#effafd"/>
<g clip-path="url(#c5)" fill="none" stroke-linejoin="round">
<polygon points="481.5,161.4 551,159.4 616.9,157.6 686.4,156.8 686.4,169.5 551,169.5 481.5,169.4" fill="#984ea3" stroke="none"/>
<polyline points="481.5,169.8 487,170.2 490.7,170.3 494.2,170.2 501.7,169.6 505.4,169.5 508.9,169.6 516.4,170.2 519.8,170.3 523.2,170.2 531.1,169.6 534.5,169.5 537.9,169.6 545.5,170.2 548.9,170.3 552.7,170.2 560.2,169.6 563.6,169.5 567.4,169.6 574.9,170.2 578.3,170.3 582.1,170.2 589.6,169.6 593,169.5 596.8,169.6 604.3,170.2 607.4,170.3 610.5,170.2 618.3,169.6 622.1,169.5 625.9,169.6 633.4,170.2 636.8,170.3 640.6,170.2 648.1,169.6 651.5,169.5 654.6,169.6 662.1,170.2 665.9,170.3 669.6,170.2 679.2,169.5 682.6,169.5 686.4,169.8" stroke="#984ea3" stroke-width="0.8" stroke-opacity="0.55"/>
<polyline points="481.5,282.3 482.2,283 482.5,283.2 482.9,283.3 483.6,283.1 484.6,281.8 485.6,279.5 486.6,276.3 487.7,272.3 492.1,251.3 493.8,244.3 494.8,241.1 495.9,238.8 496.9,237.5 497.6,237.3 498.3,237.6 499.3,238.9 500,240.3 501,243.3 502.7,250 506.5,268 508.2,275.3 509.2,278.7 510.2,281.3 511.3,282.8 511.9,283.3 512.6,283.2 513,283 513.7,282.2 514.3,280.9 515.4,278.2 516.4,274.6 517.4,270.3 521.5,250.7 523.2,243.9 524.3,240.8 525.3,238.6 526,237.7 526.3,237.5 527,237.3 527.7,237.7 528.7,239.1 529.7,241.6 530.8,244.9 532.5,252.1 536.2,270.1 537.3,274.4 538.3,278 539.3,280.8 540,282.1 540.7,282.9 541.4,283.3 542,283.1 542.4,282.9 543.1,282 543.8,280.7 544.8,277.8 546.5,271.3 550.6,251.8 552.3,244.7 553.3,241.4 554.4,239 555.4,237.6 556.1,237.3 556.8,237.5 557.8,238.7 558.5,240.1 559.5,243 561.2,249.5 565.3,269.1 567,276.1 568,279.4 568.7,281.1 569.8,282.7 570.4,283.2 571.1,283.2 571.5,283.1 572.1,282.3 572.8,281.1 573.9,278.5 574.9,275 575.9,270.8 580,251.2 581.7,244.3 582.8,241 583.8,238.8 584.8,237.5 585.5,237.3 586.2,237.6 587.2,238.9 587.9,240.4 588.9,243.3 590.6,250 594.4,268.1 596.1,275.3 597.1,278.8 597.8,280.6 598.8,282.5 599.5,283.1 600.2,283.3 600.5,283.2 601.2,282.6 602.3,280.9 603.3,278.2 604.3,274.6 605.3,270.3 609.4,250.7 611.1,243.8 612.2,240.7 613.2,238.6 613.9,237.7 614.2,237.4 614.9,237.3 615.6,237.7 616.3,238.5 617,239.8 618,242.6 619,246.3 620,250.6 623.8,268.6 625.5,275.8 626.5,279.1 627.2,280.8 628.2,282.6 628.9,283.2 629.6,283.3 630,283.1 630.6,282.5 631.3,281.4 632.4,278.8 633.4,275.4 634.4,271.3 638.5,251.7 640.2,244.6 641.2,241.3 642.3,238.9 643.3,237.6 644,237.3 644.7,237.5 645.7,238.7 646.4,240.1 647.4,243 649.1,249.6 653.2,269.2 654.9,276.2 656,279.4 657,281.8 658,283 658.7,283.3 659.4,283.1 660.4,281.8 661.4,279.5 662.5,276.2 664.2,269.2 668.3,249.6 669.3,245.5 670.3,242 671.3,239.4 672.4,237.8 673.1,237.3 673.4,237.3 673.7,237.4 674.4,237.9 675.1,238.9 675.8,240.4 677.2,244.6 678.9,251.6 682.3,268.1 683.7,274.1 685,278.8 685.7,280.6 686.4,282" stroke="#4daf4a" stroke-width="1"/>
<polyline points="481.5,238.3 483.6,238.4 485.6,238 487.7,237.4 493.8,235 495.9,234.5 497.6,234.4 498.9,234.5 500.7,234.9 502.7,235.5 508.2,237.7 510.2,238.2 511.9,238.4 513.7,238.3 515.4,237.9 517.4,237.2 522.9,235 524.9,234.5 526.7,234.4 528.4,234.5 530.1,234.9 531.8,235.5 537.6,237.8 539.3,238.2 541,238.4 542.7,238.3 544.4,238 546.5,237.3 552.3,235 554.4,234.5 556.1,234.4 557.8,234.5 559.5,234.9 566.7,237.7 568.7,238.2 570.4,238.4 572.1,238.3 573.9,238 575.9,237.3 581.7,235 583.8,234.5 585.5,234.4 586.9,234.5 588.6,234.9 590.6,235.5 596.1,237.7 597.8,238.2 599.5,238.4 601.2,238.3 603.3,237.9 605,237.4 610.8,235 612.9,234.5 614.6,234.4 616.3,234.5 618,234.9 620,235.6 625.2,237.7 626.9,238.1 628.6,238.4 630.3,238.4 632.4,238 634.4,237.3 640.2,235 642.3,234.5 644,234.4 645.7,234.5 647.7,235 655.3,237.9 657,238.3 658.7,238.4 660.4,238.3 662.5,237.8 668.3,235.4 670.3,234.8 672.4,234.4 674.4,234.5 677.2,235.1 683.3,237.5 685,238 686.4,238.3" stroke="#4daf4a" stroke-width="0.9"/>
<polyline points="481.5,236.2 489.4,235.4 493.1,235.3 496.9,235.5 504.4,236.2 508.5,236.3 511.6,236.1 518.8,235.4 522.2,235.3 526,235.5 533.8,236.2 537.3,236.3 540.7,236.1 548.2,235.4 551.6,235.3 555.4,235.5 562.9,236.2 566.7,236.3 570.1,236.1 577.3,235.4 580.7,235.3 584.5,235.4 592.3,236.2 595.8,236.3 599.5,236.1 606.7,235.4 610.1,235.3 613.9,235.5 621.4,236.2 624.8,236.3 628.6,236.1 636.1,235.4 639.5,235.3 643.3,235.5 650.8,236.2 654.2,236.3 658,236.1 665.5,235.4 668.6,235.3 672.4,235.4 680.9,236.2 683.7,236.3 686.4,236.2" stroke="#4daf4a" stroke-width="0.8" stroke-opacity="0.6"/>
<polyline points="481.5,231.3 686.4,231.3" stroke="#4daf4a" stroke-width="1"/>
<polyline points="481.5,232 686.4,232" stroke="#4daf4a" stroke-width="1"/>
<polyline points="481.5,232.8 686.4,232.8" stroke="#4daf4a" stroke-width="1"/>
<polyline points="481.5,179 482.2,177.4 482.5,177 482.9,176.8 483.2,176.9 483.6,177.3 484.2,178.8 484.9,181.2 485.6,184.2 488.7,199.6 489.7,203.4 490.4,205.3 491.1,206.8 492.1,208.4 492.8,209 493.5,209.5 495.2,210 497.6,210.2 500.3,209.9 501.3,209.6 502,209.2 502.7,208.7 503.4,207.9 504.4,206 505.4,203.2 506.5,199.4 510.2,180.9 511.3,177.8 511.9,176.9 512.3,176.8 512.6,177 513,177.5 514,180.3 515,184.8 517.8,198.6 518.8,202.7 519.8,205.6 520.8,207.6 521.5,208.5 522.2,209.1 522.9,209.5 523.9,209.9 526.3,210.2 529.4,210 531.1,209.4 531.8,208.9 532.5,208.2 533.2,207.1 533.8,205.7 534.9,202.8 535.9,198.9 538.6,185 539.7,180.5 540.7,177.6 541,177.1 541.4,176.8 541.7,176.8 542,177.1 542.4,177.7 543.4,180.7 547.2,199.1 548.2,203 549.2,205.9 550.3,207.8 550.9,208.6 551.6,209.2 552.3,209.6 553.3,209.9 555.7,210.2 558.5,210 560.2,209.5 560.9,209.1 561.5,208.4 562.2,207.5 562.9,206.2 563.9,203.6 565,199.8 568,184.5 569.1,180.1 569.8,178 570.1,177.4 570.4,176.9 570.8,176.8 571.1,176.9 571.8,177.9 572.8,181.2 576.3,198.2 577.3,202.3 578.3,205.4 579.3,207.4 580,208.4 580.7,209 581.4,209.5 582.4,209.9 584.8,210.1 587.9,210 589.6,209.4 590.3,209 591,208.3 591.6,207.3 592.3,206 593.4,203.2 594.4,199.3 598.1,180.9 599.2,177.8 599.9,176.9 600.2,176.8 600.5,177 600.9,177.5 601.9,180.3 602.9,184.8 605.7,198.7 606.7,202.7 607.7,205.6 608.8,207.6 609.4,208.5 610.1,209.1 610.8,209.5 611.8,209.9 613.9,210.1 617,210 618.7,209.6 619.4,209.2 620,208.5 620.7,207.7 621.4,206.5 622.8,202.8 623.8,198.8 626.5,185 627.6,180.4 628.6,177.5 628.9,177 629.3,176.8 629.6,176.9 630,177.2 630.3,177.7 631.3,180.8 635.1,199.2 636.1,203.1 636.8,205.1 637.8,207.3 638.5,208.3 639.2,209 639.9,209.4 640.9,209.8 643,210.1 646,210.1 647.1,209.9 648.1,209.5 648.8,209.1 649.5,208.4 650.1,207.5 650.8,206.2 651.9,203.5 652.9,199.8 656,184.4 657,180 657.7,178 658,177.3 658.4,176.9 658.7,176.8 659,176.9 659.4,177.3 659.7,178 660.4,180 661.4,184.3 664.5,199.7 665.9,204.5 666.6,206.2 667.2,207.5 667.9,208.4 669,209.3 670,209.8 671,210 673.1,210.2 675.5,210 676.8,209.7 677.8,209.2 678.9,208.3 679.9,206.7 680.9,204.2 681.6,202 682.6,197.7 685.4,183.8 686.4,179.6" stroke="#377eb8" stroke-width="1"/>
<polyline points="481.5,231 482.5,231.3 483.6,231.2 484.6,230.8 485.6,230 486.6,229 487.7,227.6 492.1,220.6 493.8,218.2 494.8,217.2 495.9,216.4 496.9,216 497.6,215.9 498.3,216 499.3,216.4 500,216.9 501,217.9 502.7,220.1 506.5,226.2 508.2,228.6 509.2,229.8 510.2,230.6 511.3,231.1 511.9,231.3 512.6,231.3 513.7,230.9 514.3,230.5 515.4,229.6 517.4,227 521.5,220.4 523.2,218.1 524.3,217.1 525.3,216.3 526.3,216 527,215.9 527.7,216 528.7,216.5 529.7,217.3 530.8,218.4 532.5,220.8 536.2,226.9 538.3,229.5 539.3,230.5 540,230.9 541.4,231.3 542,231.2 543.1,230.9 543.8,230.4 544.8,229.5 546.5,227.3 550.6,220.7 552.3,218.4 553.3,217.3 554.4,216.5 555.4,216 556.1,215.9 556.8,216 557.8,216.4 558.5,216.8 559.5,217.8 561.2,220 565.3,226.5 567,228.9 568.7,230.6 569.8,231.1 570.4,231.3 571.1,231.3 572.1,231 572.8,230.6 573.9,229.7 575.9,227.1 580,220.6 581.7,218.2 582.8,217.2 583.8,216.4 584.8,216 585.5,215.9 586.2,216 587.2,216.4 588.9,217.9 590.6,220.2 594.4,226.2 596.1,228.6 597.8,230.4 598.8,231 599.5,231.2 600.2,231.3 601.2,231.1 602.3,230.5 603.3,229.6 605.3,226.9 609.4,220.4 611.1,218.1 612.2,217 613.2,216.3 614.2,215.9 614.9,215.9 616.3,216.3 617,216.7 618,217.7 620,220.3 623.8,226.4 625.5,228.8 627.2,230.5 628.2,231.1 628.9,231.3 629.6,231.3 630.6,231 631.3,230.7 632.4,229.8 634.4,227.3 638.5,220.7 640.2,218.4 641.2,217.2 642.3,216.5 643.3,216 644,215.9 644.7,216 645.7,216.4 646.4,216.8 647.4,217.8 649.1,220 653.2,226.6 654.9,228.9 656,230 657,230.8 658,231.2 658.7,231.3 659.4,231.2 660.4,230.8 661.4,230 662.5,228.9 664.2,226.6 668.3,220 670.3,217.5 671.3,216.6 672.4,216.1 673.4,215.9 674.4,216.1 675.8,216.9 677.2,218.3 678.9,220.7 682.3,226.2 683.7,228.2 685,229.8 686.4,230.9" stroke="#377eb8" stroke-width="1"/>
<polyline points="481.5,230.8 482.5,231.3 483.6,231.2 484.6,230.7 485.6,229.6 486.6,228.2 487.7,226.5 492.1,217.2 493.8,214.2 494.8,212.8 495.9,211.8 496.9,211.2 497.6,211.1 498.3,211.2 499.3,211.8 500,212.4 501,213.7 502.7,216.7 506.5,224.6 508.2,227.8 509.2,229.3 510.2,230.4 511.3,231.1 511.9,231.3 512.6,231.3 513.7,230.8 514.3,230.3 515.4,229.1 517.4,225.6 521.5,217 523.2,214 524.3,212.6 525.3,211.7 526.3,211.2 527,211.1 527.7,211.3 528.7,211.9 529.7,213 530.8,214.4 532.5,217.6 536.2,225.5 538.3,229 539.3,230.2 540,230.8 540.7,231.1 541.4,231.3 542,231.2 543.1,230.7 543.8,230.1 544.8,228.9 546.5,226 550.6,217.5 552.3,214.3 553.3,212.9 554.4,211.8 555.4,211.2 556.1,211.1 556.8,211.2 557.8,211.7 558.5,212.3 559.5,213.6 561.2,216.5 565.3,225.1 567,228.2 568,229.6 568.7,230.3 569.8,231 570.4,231.3 571.1,231.3 572.1,230.9 572.8,230.4 573.9,229.2 574.9,227.7 575.9,225.8 580,217.2 581.7,214.2 582.8,212.7 583.8,211.7 584.8,211.2 585.5,211.1 586.2,211.2 587.2,211.8 587.9,212.4 588.9,213.8 590.6,216.7 594.4,224.6 596.1,227.8 597.8,230.1 598.8,230.9 599.5,231.2 600.2,231.3 601.2,231 602.3,230.2 603.3,229 605.3,225.6 609.4,217 611.1,214 612.2,212.6 613.2,211.7 614.2,211.2 614.9,211.1 615.6,211.3 616.3,211.6 617,212.2 618,213.4 620,216.9 623.8,224.9 625.5,228 627.2,230.2 628.2,231 628.9,231.2 629.6,231.3 630.6,230.9 631.3,230.5 632.4,229.3 633.4,227.8 634.4,226 638.5,217.4 640.2,214.3 641.2,212.9 642.3,211.8 643.3,211.2 644,211.1 644.7,211.2 645.7,211.7 646.4,212.3 647.4,213.6 649.1,216.5 653.2,225.1 654.9,228.2 656,229.6 657,230.6 658,231.2 658.7,231.3 659.4,231.2 660.4,230.6 661.4,229.6 662.5,228.2 664.2,225.1 668.3,216.5 669.3,214.7 670.3,213.2 671.3,212 672.4,211.3 673.4,211.1 674.4,211.4 675.8,212.5 677.2,214.3 678.9,217.4 682.3,224.6 683.7,227.2 685,229.3 686.4,230.7" stroke="#377eb8" stroke-width="0.9" stroke-opacity="0.85"/>
<polyline points="481.5,210.6 483.6,210.5 485.6,210.8 487.7,211.5 493.8,213.9 495.9,214.4 497.6,214.5 499.3,214.4 501,214 508.2,211.2 510.2,210.7 511.9,210.5 513.7,210.6 515.4,210.9 517.4,211.6 523.2,213.9 525.3,214.4 527,214.5 528.7,214.3 530.8,213.8 536.2,211.6 538.3,211 540,210.6 541.4,210.5 543.1,210.6 544.8,211 546.5,211.5 552.3,213.9 554.4,214.4 556.1,214.5 557.8,214.4 559.5,214 567,211.1 568.7,210.7 570.4,210.5 572.1,210.6 573.9,210.9 575.9,211.6 581.7,213.9 583.8,214.4 585.5,214.5 587.2,214.4 588.9,214 596.1,211.2 597.8,210.7 599.5,210.5 601.2,210.6 603.3,210.9 605.3,211.6 611.1,213.9 613.2,214.4 614.9,214.5 616.3,214.4 618,214 620,213.3 625.5,211.2 627.2,210.7 628.9,210.5 630.6,210.6 632.4,210.9 634.4,211.5 640.2,213.9 642.3,214.4 644,214.5 645.7,214.4 647.4,214 654.9,211.1 657,210.6 658.7,210.5 660.4,210.6 662.5,211.1 668.3,213.4 670.3,214.1 672.4,214.5 674.4,214.4 677.2,213.9 683.7,211.3 686.4,210.6" stroke="#377eb8" stroke-width="0.8" stroke-opacity="0.7"/>
<polyline points="481.5,208.9 483.9,209 488.3,208.5 490.4,208.4 497.6,209 504.8,208.4 512.3,209 519.5,208.4 526.7,209 534.2,208.4 541.4,209 548.9,208.4 556.1,209 563.6,208.4 570.8,209 578,208.4 585.5,209 592.7,208.4 599.9,209 607.4,208.4 614.6,209 622.1,208.4 629.3,209 636.8,208.4 644,209 651.5,208.4 658.4,209 660.4,208.9 665.9,208.4 667.6,208.5 672.7,209 674.8,208.9 680.6,208.4 682.6,208.5 686.4,208.9" stroke="#377eb8" stroke-width="0.9"/>
<polyline points="481.5,209.6 483.9,209.7 488.3,209.2 490.4,209.1 497.6,209.7 504.8,209.1 512.3,209.7 519.5,209.1 526.7,209.7 534.2,209.1 541.4,209.7 548.9,209.1 556.1,209.7 563.6,209.1 570.8,209.7 578,209.1 585.5,209.7 592.7,209.1 599.9,209.7 607.4,209.1 614.6,209.7 622.1,209.1 629.3,209.7 636.8,209.1 644,209.7 651.5,209.1 658.4,209.7 660.4,209.6 665.9,209.1 667.6,209.2 672.7,209.7 674.8,209.6 680.6,209.1 682.6,209.2 686.4,209.6" stroke="#377eb8" stroke-width="0.9"/>
<polyline points="481.5,210.3 483.9,210.4 488.3,209.9 490.4,209.8 497.6,210.4 504.8,209.8 512.3,210.4 519.5,209.8 526.7,210.4 534.2,209.8 541.4,210.4 548.9,209.8 556.1,210.4 563.6,209.8 570.8,210.4 578,209.8 585.5,210.4 592.7,209.8 599.9,210.4 607.4,209.8 614.6,210.4 622.1,209.8 629.3,210.4 636.8,209.8 644,210.4 651.5,209.8 658.4,210.4 660.4,210.3 665.9,209.8 667.6,209.9 672.7,210.4 674.8,210.3 680.6,209.8 682.6,209.9 686.4,210.3" stroke="#377eb8" stroke-width="0.9"/>
<polyline points="481.5,211 483.9,211.1 488.3,210.6 490.4,210.5 497.6,211.1 504.8,210.5 512.3,211.1 519.5,210.5 526.7,211.1 534.2,210.5 541.4,211.1 548.9,210.5 556.1,211.1 563.6,210.5 570.8,211.1 578,210.5 585.5,211.1 592.7,210.5 599.9,211.1 607.4,210.5 614.6,211.1 622.1,210.5 629.3,211.1 636.8,210.5 644,211.1 651.5,210.5 658.4,211.1 660.4,211 665.9,210.5 667.6,210.6 672.7,211.1 674.8,211 680.6,210.5 682.6,210.6 686.4,211" stroke="#377eb8" stroke-width="0.9"/>
</g>
<g stroke="#000" stroke-width="1.1" fill="none">
<rect x="57.5" y="0.5" width="201" height="138.8" fill="none" stroke="#1a1a1a" stroke-width="1.25"/>
<line x1="53.3" y1="31.4" x2="57.5" y2="31.4"/>
<line x1="53.3" y1="81.4" x2="57.5" y2="81.4"/>
<line x1="53.3" y1="131.4" x2="57.5" y2="131.4"/>
<line x1="121.8" y1="139.3" x2="121.8" y2="143.5"/>
<line x1="186.5" y1="139.3" x2="186.5" y2="143.5"/>
<line x1="251.2" y1="139.3" x2="251.2" y2="143.5"/>
<rect x="270.4" y="0.5" width="201" height="138.8" fill="none" stroke="#1a1a1a" stroke-width="1.25"/>
<line x1="266.2" y1="31.4" x2="270.4" y2="31.4"/>
<line x1="266.2" y1="81.4" x2="270.4" y2="81.4"/>
<line x1="266.2" y1="131.4" x2="270.4" y2="131.4"/>
<line x1="334.5" y1="139.3" x2="334.5" y2="143.5"/>
<line x1="399.2" y1="139.3" x2="399.2" y2="143.5"/>
<line x1="463.9" y1="139.3" x2="463.9" y2="143.5"/>
<rect x="483.5" y="0.5" width="200.9" height="138.8" fill="none" stroke="#1a1a1a" stroke-width="1.25"/>
<line x1="479.3" y1="31.4" x2="483.5" y2="31.4"/>
<line x1="479.3" y1="81.4" x2="483.5" y2="81.4"/>
<line x1="479.3" y1="131.4" x2="483.5" y2="131.4"/>
<line x1="524.4" y1="139.3" x2="524.4" y2="143.5"/>
<line x1="565.8" y1="139.3" x2="565.8" y2="143.5"/>
<line x1="607.1" y1="139.3" x2="607.1" y2="143.5"/>
<line x1="648.5" y1="139.3" x2="648.5" y2="143.5"/>
<rect x="57.5" y="151" width="201" height="138.4" fill="none" stroke="#1a1a1a" stroke-width="1.25"/>
<line x1="53.3" y1="165.4" x2="57.5" y2="165.4"/>
<line x1="53.3" y1="217.4" x2="57.5" y2="217.4"/>
<line x1="53.3" y1="269.4" x2="57.5" y2="269.4"/>
<line x1="121.8" y1="289.4" x2="121.8" y2="293.6"/>
<line x1="186.5" y1="289.4" x2="186.5" y2="293.6"/>
<line x1="251.2" y1="289.4" x2="251.2" y2="293.6"/>
<rect x="270.4" y="151" width="201" height="138.4" fill="none" stroke="#1a1a1a" stroke-width="1.25"/>
<line x1="266.2" y1="165.4" x2="270.4" y2="165.4"/>
<line x1="266.2" y1="217.4" x2="270.4" y2="217.4"/>
<line x1="266.2" y1="269.4" x2="270.4" y2="269.4"/>
<line x1="334.5" y1="289.4" x2="334.5" y2="293.6"/>
<line x1="399.2" y1="289.4" x2="399.2" y2="293.6"/>
<line x1="463.9" y1="289.4" x2="463.9" y2="293.6"/>
<rect x="483.5" y="151" width="200.9" height="138.4" fill="none" stroke="#1a1a1a" stroke-width="1.25"/>
<line x1="479.3" y1="165.4" x2="483.5" y2="165.4"/>
<line x1="479.3" y1="217.4" x2="483.5" y2="217.4"/>
<line x1="479.3" y1="269.4" x2="483.5" y2="269.4"/>
<line x1="524.4" y1="289.4" x2="524.4" y2="293.6"/>
<line x1="565.8" y1="289.4" x2="565.8" y2="293.6"/>
<line x1="607.1" y1="289.4" x2="607.1" y2="293.6"/>
<line x1="648.5" y1="289.4" x2="648.5" y2="293.6"/>
</g>
<g font-family="'Liberation Sans', sans-serif" fill="#000" stroke="#000" stroke-width="0.2">
<text x="49.4" y="35.8" font-size="12.4" text-anchor="end">200</text>
<text x="49.4" y="85.8" font-size="12.4" text-anchor="end">0</text>
<text x="49.4" y="135.8" font-size="12.4" text-anchor="end"><tspan dy="0.8">−</tspan><tspan dy="-0.8">200</tspan></text>
<text x="49.4" y="169.8" font-size="12.4" text-anchor="end">0</text>
<text x="49.4" y="221.8" font-size="12.4" text-anchor="end"><tspan dy="0.8">−</tspan><tspan dy="-0.8">100</tspan></text>
<text x="49.4" y="273.8" font-size="12.4" text-anchor="end"><tspan dy="0.8">−</tspan><tspan dy="-0.8">200</tspan></text>
<text x="117.2" y="304.3" font-size="8.6" text-anchor="middle">1</text>
<rect x="114.9" y="306.5" width="4.6" height="0.75" fill="#000" stroke="none"/>
<text x="117.2" y="315" font-size="8.6" text-anchor="middle">2</text>
<text x="122.2" y="309.7" font-size="13.2" font-style="italic">a</text>
<text x="186.1" y="306.8" font-size="13.2" text-anchor="middle" font-style="italic">a</text>
<text x="246.6" y="304.3" font-size="8.6" text-anchor="middle">3</text>
<rect x="244.3" y="306.5" width="4.6" height="0.75" fill="#000" stroke="none"/>
<text x="246.6" y="315" font-size="8.6" text-anchor="middle">2</text>
<text x="251.6" y="309.7" font-size="13.2" font-style="italic">a</text>
<text x="329.9" y="304.3" font-size="8.6" text-anchor="middle">1</text>
<rect x="327.6" y="306.5" width="4.6" height="0.75" fill="#000" stroke="none"/>
<text x="329.9" y="315" font-size="8.6" text-anchor="middle">2</text>
<text x="334.9" y="309.7" font-size="13.2" font-style="italic">a</text>
<text x="398.8" y="306.8" font-size="13.2" text-anchor="middle" font-style="italic">a</text>
<text x="459.3" y="304.3" font-size="8.6" text-anchor="middle">3</text>
<rect x="457" y="306.5" width="4.6" height="0.75" fill="#000" stroke="none"/>
<text x="459.3" y="315" font-size="8.6" text-anchor="middle">2</text>
<text x="464.3" y="309.7" font-size="13.2" font-style="italic">a</text>
<text x="519.8" y="304.3" font-size="8.6" text-anchor="middle">1</text>
<rect x="517.5" y="306.5" width="4.6" height="0.75" fill="#000" stroke="none"/>
<text x="519.8" y="315" font-size="8.6" text-anchor="middle">2</text>
<text x="524.8" y="309.7" font-size="13.2" font-style="italic">a</text>
<text x="565.4" y="306.8" font-size="13.2" text-anchor="middle" font-style="italic">a</text>
<text x="602.5" y="304.3" font-size="8.6" text-anchor="middle">3</text>
<rect x="600.2" y="306.5" width="4.6" height="0.75" fill="#000" stroke="none"/>
<text x="602.5" y="315" font-size="8.6" text-anchor="middle">2</text>
<text x="607.5" y="309.7" font-size="13.2" font-style="italic">a</text>
<text x="640.5" y="306.3" font-size="12.6">2</text>
<text x="648.6" y="306.7" font-size="13.2" font-style="italic">a</text>
<text x="60.5" y="124.8" font-size="12.25"><tspan font-size="8.5" dy="-0.7">‹</tspan><tspan dx="0.4" dy="0.7">001</tspan><tspan font-size="8.5" dy="-0.7">›</tspan><tspan dx="1.5" dy="0.7"> - Si12 in Si12</tspan></text>
<text x="63.6" y="137.2" font-size="12.25">200 keV projectile</text>
<text x="273.4" y="124.8" font-size="12.25"><tspan font-size="8.5" dy="-0.7">‹</tspan><tspan dx="0.4" dy="0.7">001</tspan><tspan font-size="8.5" dy="-0.7">›</tspan><tspan dx="1.5" dy="0.7"> - Si12 in Si12</tspan></text>
<text x="276.5" y="137.2" font-size="12.25">500 keV projectile</text>
<text x="486.5" y="124.8" font-size="12.25"><tspan font-size="8.5" dy="-0.7">‹</tspan><tspan dx="0.4" dy="0.7">001</tspan><tspan font-size="8.5" dy="-0.7">›</tspan><tspan dx="1.5" dy="0.7"> - Si12 in Si12</tspan></text>
<text x="489.6" y="137.2" font-size="12.25">20 MeV projectile</text>
<text x="60.5" y="274.9" font-size="12.25"><tspan font-size="8.5" dy="-0.7">‹</tspan><tspan dx="0.4" dy="0.7">110</tspan><tspan font-size="8.5" dy="-0.7">›</tspan><tspan dx="1.5" dy="0.7"> Off - Si12 in Si4</tspan></text>
<text x="63.6" y="287.3" font-size="12.25">50 keV projectile</text>
<text x="273.4" y="274.9" font-size="12.25"><tspan font-size="8.5" dy="-0.7">‹</tspan><tspan dx="0.4" dy="0.7">110</tspan><tspan font-size="8.5" dy="-0.7">›</tspan><tspan dx="1.5" dy="0.7"> Off - Si4 in Si12</tspan></text>
<text x="276.5" y="287.3" font-size="12.25">50 keV projectile</text>
<text x="486.5" y="274.9" font-size="12.25"><tspan font-size="8.5" dy="-0.7">‹</tspan><tspan dx="0.4" dy="0.7">110</tspan><tspan font-size="8.5" dy="-0.7">›</tspan><tspan dx="1.5" dy="0.7"> Off - Si12 in Si12</tspan></text>
<text x="489.6" y="287.3" font-size="12.25">50 keV projectile</text>
<text x="181.9" y="19.8" font-size="12">Si Orbitals</text>
<text x="204.7" y="36.9" font-size="12">3p + 3s</text>
<text x="204.8" y="54.1" font-size="12">2p</text>
<text x="204.8" y="71" font-size="12">2s</text>
<text x="228.3" y="335.7" font-size="14.5">Projectile displacement (a = 5.43 Å)</text>
<text transform="translate(11.1,247.95) rotate(-90)" font-size="14.4">Energy (a.u.</text>
<text transform="translate(11.1,161.6) rotate(-90)" font-size="14.4" textLength="10.6" lengthAdjust="spacingAndGlyphs">≈</text>
<text transform="translate(11.1,147.6) rotate(-90)" font-size="14.4" textLength="55.0" lengthAdjust="spacingAndGlyphs">27.2eV)</text>
</g>
</svg>
</body></html>
